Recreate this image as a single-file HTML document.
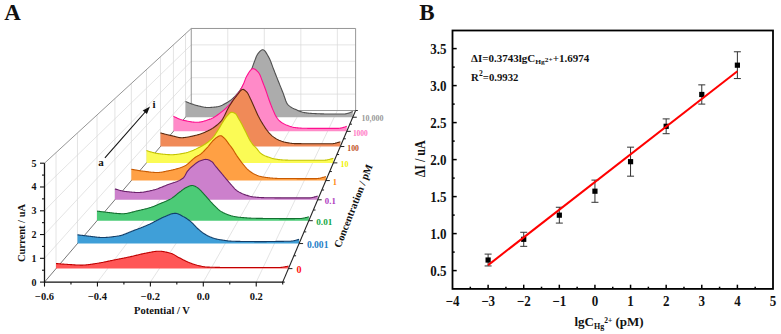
<!DOCTYPE html>
<html><head><meta charset="utf-8"><style>
html,body{margin:0;padding:0;background:#fff;overflow:hidden;}
svg{display:block;}
text{font-family:"Liberation Serif",serif;font-weight:bold;fill:#111;}
</style></head><body>
<svg width="781" height="334" viewBox="0 0 781 334">
<rect width="781" height="334" fill="#fff"/>
<line x1="56.03" y1="268.62" x2="56.03" y2="152.62" stroke="#d8d8d8" stroke-width="0.7" />
<line x1="77.47" y1="243.55" x2="77.47" y2="132.93" stroke="#d8d8d8" stroke-width="0.7" />
<line x1="97.02" y1="220.70" x2="97.02" y2="114.99" stroke="#d8d8d8" stroke-width="0.7" />
<line x1="114.90" y1="199.79" x2="114.90" y2="98.57" stroke="#d8d8d8" stroke-width="0.7" />
<line x1="131.33" y1="180.58" x2="131.33" y2="83.49" stroke="#d8d8d8" stroke-width="0.7" />
<line x1="146.47" y1="162.88" x2="146.47" y2="69.59" stroke="#d8d8d8" stroke-width="0.7" />
<line x1="160.47" y1="146.52" x2="160.47" y2="56.74" stroke="#d8d8d8" stroke-width="0.7" />
<line x1="173.45" y1="131.34" x2="173.45" y2="44.82" stroke="#d8d8d8" stroke-width="0.7" />
<line x1="185.52" y1="117.22" x2="185.52" y2="33.73" stroke="#d8d8d8" stroke-width="0.7" />
<line x1="44.50" y1="258.32" x2="191.25" y2="94.12" stroke="#d8d8d8" stroke-width="0.7" />
<line x1="44.50" y1="234.54" x2="191.25" y2="77.71" stroke="#d8d8d8" stroke-width="0.7" />
<line x1="44.50" y1="210.76" x2="191.25" y2="61.30" stroke="#d8d8d8" stroke-width="0.7" />
<line x1="44.50" y1="186.98" x2="191.25" y2="44.89" stroke="#d8d8d8" stroke-width="0.7" />
<line x1="227.77" y1="110.53" x2="227.77" y2="28.48" stroke="#d8d8d8" stroke-width="0.7" />
<line x1="264.30" y1="110.53" x2="264.30" y2="28.48" stroke="#d8d8d8" stroke-width="0.7" />
<line x1="300.83" y1="110.53" x2="300.83" y2="28.48" stroke="#d8d8d8" stroke-width="0.7" />
<line x1="337.36" y1="110.53" x2="337.36" y2="28.48" stroke="#d8d8d8" stroke-width="0.7" />
<line x1="191.25" y1="94.12" x2="355.62" y2="94.12" stroke="#d8d8d8" stroke-width="0.7" />
<line x1="191.25" y1="77.71" x2="355.62" y2="77.71" stroke="#d8d8d8" stroke-width="0.7" />
<line x1="191.25" y1="61.30" x2="355.62" y2="61.30" stroke="#d8d8d8" stroke-width="0.7" />
<line x1="191.25" y1="44.89" x2="355.62" y2="44.89" stroke="#d8d8d8" stroke-width="0.7" />
<line x1="97.43" y1="282.10" x2="227.77" y2="110.53" stroke="#d8d8d8" stroke-width="0.7" />
<line x1="150.37" y1="282.10" x2="264.30" y2="110.53" stroke="#d8d8d8" stroke-width="0.7" />
<line x1="203.30" y1="282.10" x2="300.83" y2="110.53" stroke="#d8d8d8" stroke-width="0.7" />
<line x1="256.23" y1="282.10" x2="337.36" y2="110.53" stroke="#d8d8d8" stroke-width="0.7" />
<polyline points="44.50,163.20 191.25,28.48 355.62,28.48 355.62,110.53 191.25,110.53 191.25,28.48" fill="none" stroke="#8a8a8a" stroke-width="0.9"/>
<line x1="44.50" y1="282.10" x2="191.25" y2="110.53" stroke="#555" stroke-width="0.8" />
<path d="M185.52,117.22 L185.52,101.40 L186.14,101.68 L186.76,101.95 L187.38,102.22 L188.00,102.48 L188.62,102.73 L189.24,102.99 L189.86,103.23 L190.48,103.47 L191.10,103.70 L191.72,103.93 L192.34,104.14 L192.95,104.35 L193.57,104.56 L194.19,104.75 L194.81,104.94 L195.43,105.12 L196.05,105.28 L196.67,105.44 L197.29,105.60 L197.91,105.75 L198.53,105.91 L199.15,106.07 L199.77,106.23 L200.39,106.38 L201.01,106.53 L201.63,106.68 L202.25,106.82 L202.87,106.95 L203.49,107.07 L204.11,107.18 L204.72,107.27 L205.34,107.35 L205.96,107.42 L206.58,107.47 L207.20,107.49 L207.82,107.50 L208.44,107.49 L209.06,107.48 L209.68,107.46 L210.30,107.43 L210.92,107.40 L211.54,107.36 L212.16,107.32 L212.78,107.27 L213.40,107.21 L214.02,107.15 L214.64,107.09 L215.26,107.02 L215.88,106.95 L216.49,106.88 L217.11,106.80 L217.73,106.70 L218.35,106.57 L218.97,106.40 L219.59,106.21 L220.21,105.99 L220.83,105.75 L221.45,105.48 L222.07,105.20 L222.69,104.90 L223.31,104.58 L223.93,104.26 L224.55,103.93 L225.17,103.59 L225.79,103.25 L226.41,102.91 L227.03,102.56 L227.65,102.20 L228.26,101.82 L228.88,101.41 L229.50,100.99 L230.12,100.55 L230.74,100.08 L231.36,99.60 L231.98,99.09 L232.60,98.56 L233.22,98.01 L233.84,97.43 L234.46,96.84 L235.08,96.22 L235.70,95.57 L236.32,94.89 L236.94,94.18 L237.56,93.44 L238.18,92.68 L238.80,91.88 L239.42,91.06 L240.03,90.21 L240.65,89.34 L241.27,88.43 L241.89,87.50 L242.51,86.54 L243.13,85.56 L243.75,84.55 L244.37,83.51 L244.99,82.45 L245.61,81.36 L246.23,80.25 L246.85,79.11 L247.47,77.95 L248.09,76.77 L248.71,75.56 L249.33,74.32 L249.95,73.07 L250.57,71.79 L251.19,70.44 L251.80,68.86 L252.42,67.14 L253.04,65.36 L253.66,63.61 L254.28,61.99 L254.90,60.36 L255.52,58.69 L256.14,57.08 L256.76,55.65 L257.38,54.51 L258.00,53.68 L258.62,52.89 L259.24,52.14 L259.86,51.45 L260.48,50.84 L261.10,50.34 L261.72,49.97 L262.34,49.75 L262.96,49.71 L263.57,49.90 L264.19,50.31 L264.81,50.92 L265.43,51.69 L266.05,52.59 L266.67,53.59 L267.29,54.66 L267.91,55.76 L268.53,56.87 L269.15,57.97 L269.77,59.22 L270.39,60.67 L271.01,62.26 L271.63,63.94 L272.25,65.65 L272.87,67.34 L273.49,68.96 L274.11,70.53 L274.73,72.10 L275.34,73.68 L275.96,75.25 L276.58,76.83 L277.20,78.39 L277.82,79.95 L278.44,81.51 L279.06,83.05 L279.68,84.59 L280.30,86.12 L280.92,87.65 L281.54,89.18 L282.16,90.71 L282.78,92.25 L283.40,93.92 L284.02,95.71 L284.64,97.53 L285.26,99.30 L285.88,100.96 L286.50,102.42 L287.11,103.60 L287.73,104.44 L288.35,105.06 L288.97,105.62 L289.59,106.14 L290.21,106.61 L290.83,107.03 L291.45,107.43 L292.07,107.79 L292.69,108.12 L293.31,108.43 L293.93,108.73 L294.55,109.01 L295.17,109.29 L295.79,109.56 L296.41,109.84 L297.03,110.11 L297.65,110.38 L298.27,110.64 L298.88,110.90 L299.50,111.15 L300.12,111.38 L300.74,111.61 L301.36,111.81 L301.98,112.01 L302.60,112.18 L303.22,112.34 L303.84,112.48 L304.46,112.59 L305.08,112.69 L305.70,112.79 L306.32,112.88 L306.94,112.96 L307.56,113.04 L308.18,113.11 L308.80,113.18 L309.42,113.24 L310.04,113.30 L310.65,113.35 L311.27,113.40 L311.89,113.44 L312.51,113.48 L313.13,113.51 L313.75,113.54 L314.37,113.57 L314.99,113.60 L315.61,113.63 L316.23,113.66 L316.85,113.68 L317.47,113.71 L318.09,113.73 L318.71,113.76 L319.33,113.78 L319.95,113.80 L320.57,113.83 L321.19,113.85 L321.80,113.87 L322.42,113.88 L323.04,113.90 L323.66,113.92 L324.28,113.93 L324.90,113.95 L325.52,113.96 L326.14,113.97 L326.76,113.98 L327.38,113.99 L328.00,113.99 L328.62,114.00 L329.24,114.00 L329.86,114.00 L330.48,114.00 L331.10,114.00 L331.72,114.00 L332.34,114.00 L332.96,114.00 L333.57,114.00 L334.19,114.00 L334.81,114.00 L335.43,114.00 L336.05,114.00 L336.67,114.00 L337.29,114.00 L337.91,114.00 L338.53,114.00 L339.15,114.00 L339.77,114.00 L340.39,114.00 L341.01,114.00 L341.63,114.00 L342.25,114.00 L342.87,114.00 L343.49,114.00 L344.11,113.98 L344.73,113.94 L345.34,113.86 L345.96,113.76 L346.58,113.63 L347.20,113.48 L347.82,113.31 L348.44,113.13 L349.06,112.93 L349.68,112.72 L350.30,112.51 L350.92,112.28 L351.54,112.06 L352.16,111.83 L352.78,111.60 L352.78,117.22Z" fill="#acacac" stroke="none"/>
<path d="M185.52,101.40 L186.14,101.68 L186.76,101.95 L187.38,102.22 L188.00,102.48 L188.62,102.73 L189.24,102.99 L189.86,103.23 L190.48,103.47 L191.10,103.70 L191.72,103.93 L192.34,104.14 L192.95,104.35 L193.57,104.56 L194.19,104.75 L194.81,104.94 L195.43,105.12 L196.05,105.28 L196.67,105.44 L197.29,105.60 L197.91,105.75 L198.53,105.91 L199.15,106.07 L199.77,106.23 L200.39,106.38 L201.01,106.53 L201.63,106.68 L202.25,106.82 L202.87,106.95 L203.49,107.07 L204.11,107.18 L204.72,107.27 L205.34,107.35 L205.96,107.42 L206.58,107.47 L207.20,107.49 L207.82,107.50 L208.44,107.49 L209.06,107.48 L209.68,107.46 L210.30,107.43 L210.92,107.40 L211.54,107.36 L212.16,107.32 L212.78,107.27 L213.40,107.21 L214.02,107.15 L214.64,107.09 L215.26,107.02 L215.88,106.95 L216.49,106.88 L217.11,106.80 L217.73,106.70 L218.35,106.57 L218.97,106.40 L219.59,106.21 L220.21,105.99 L220.83,105.75 L221.45,105.48 L222.07,105.20 L222.69,104.90 L223.31,104.58 L223.93,104.26 L224.55,103.93 L225.17,103.59 L225.79,103.25 L226.41,102.91 L227.03,102.56 L227.65,102.20 L228.26,101.82 L228.88,101.41 L229.50,100.99 L230.12,100.55 L230.74,100.08 L231.36,99.60 L231.98,99.09 L232.60,98.56 L233.22,98.01 L233.84,97.43 L234.46,96.84 L235.08,96.22 L235.70,95.57 L236.32,94.89 L236.94,94.18 L237.56,93.44 L238.18,92.68 L238.80,91.88 L239.42,91.06 L240.03,90.21 L240.65,89.34 L241.27,88.43 L241.89,87.50 L242.51,86.54 L243.13,85.56 L243.75,84.55 L244.37,83.51 L244.99,82.45 L245.61,81.36 L246.23,80.25 L246.85,79.11 L247.47,77.95 L248.09,76.77 L248.71,75.56 L249.33,74.32 L249.95,73.07 L250.57,71.79 L251.19,70.44 L251.80,68.86 L252.42,67.14 L253.04,65.36 L253.66,63.61 L254.28,61.99 L254.90,60.36 L255.52,58.69 L256.14,57.08 L256.76,55.65 L257.38,54.51 L258.00,53.68 L258.62,52.89 L259.24,52.14 L259.86,51.45 L260.48,50.84 L261.10,50.34 L261.72,49.97 L262.34,49.75 L262.96,49.71 L263.57,49.90 L264.19,50.31 L264.81,50.92 L265.43,51.69 L266.05,52.59 L266.67,53.59 L267.29,54.66 L267.91,55.76 L268.53,56.87 L269.15,57.97 L269.77,59.22 L270.39,60.67 L271.01,62.26 L271.63,63.94 L272.25,65.65 L272.87,67.34 L273.49,68.96 L274.11,70.53 L274.73,72.10 L275.34,73.68 L275.96,75.25 L276.58,76.83 L277.20,78.39 L277.82,79.95 L278.44,81.51 L279.06,83.05 L279.68,84.59 L280.30,86.12 L280.92,87.65 L281.54,89.18 L282.16,90.71 L282.78,92.25 L283.40,93.92 L284.02,95.71 L284.64,97.53 L285.26,99.30 L285.88,100.96 L286.50,102.42 L287.11,103.60 L287.73,104.44 L288.35,105.06 L288.97,105.62 L289.59,106.14 L290.21,106.61 L290.83,107.03 L291.45,107.43 L292.07,107.79 L292.69,108.12 L293.31,108.43 L293.93,108.73 L294.55,109.01 L295.17,109.29 L295.79,109.56 L296.41,109.84 L297.03,110.11 L297.65,110.38 L298.27,110.64 L298.88,110.90 L299.50,111.15 L300.12,111.38 L300.74,111.61 L301.36,111.81 L301.98,112.01 L302.60,112.18 L303.22,112.34 L303.84,112.48 L304.46,112.59 L305.08,112.69 L305.70,112.79 L306.32,112.88 L306.94,112.96 L307.56,113.04 L308.18,113.11 L308.80,113.18 L309.42,113.24 L310.04,113.30 L310.65,113.35 L311.27,113.40 L311.89,113.44 L312.51,113.48 L313.13,113.51 L313.75,113.54 L314.37,113.57 L314.99,113.60 L315.61,113.63 L316.23,113.66 L316.85,113.68 L317.47,113.71 L318.09,113.73 L318.71,113.76 L319.33,113.78 L319.95,113.80 L320.57,113.83 L321.19,113.85 L321.80,113.87 L322.42,113.88 L323.04,113.90 L323.66,113.92 L324.28,113.93 L324.90,113.95 L325.52,113.96 L326.14,113.97 L326.76,113.98 L327.38,113.99 L328.00,113.99 L328.62,114.00 L329.24,114.00 L329.86,114.00 L330.48,114.00 L331.10,114.00 L331.72,114.00 L332.34,114.00 L332.96,114.00 L333.57,114.00 L334.19,114.00 L334.81,114.00 L335.43,114.00 L336.05,114.00 L336.67,114.00 L337.29,114.00 L337.91,114.00 L338.53,114.00 L339.15,114.00 L339.77,114.00 L340.39,114.00 L341.01,114.00 L341.63,114.00 L342.25,114.00 L342.87,114.00 L343.49,114.00 L344.11,113.98 L344.73,113.94 L345.34,113.86 L345.96,113.76 L346.58,113.63 L347.20,113.48 L347.82,113.31 L348.44,113.13 L349.06,112.93 L349.68,112.72 L350.30,112.51 L350.92,112.28 L351.54,112.06 L352.16,111.83 L352.78,111.60" fill="none" stroke="#505050" stroke-width="1.1"/>
<path d="M173.45,131.34 L173.45,116.30 L174.09,116.62 L174.73,116.94 L175.37,117.25 L176.02,117.56 L176.66,117.86 L177.30,118.15 L177.94,118.43 L178.58,118.70 L179.23,118.96 L179.87,119.20 L180.51,119.44 L181.15,119.65 L181.79,119.85 L182.44,120.04 L183.08,120.20 L183.72,120.35 L184.36,120.49 L185.00,120.63 L185.65,120.77 L186.29,120.91 L186.93,121.05 L187.57,121.18 L188.21,121.31 L188.86,121.43 L189.50,121.55 L190.14,121.66 L190.78,121.77 L191.42,121.86 L192.07,121.95 L192.71,122.04 L193.35,122.11 L193.99,122.17 L194.63,122.22 L195.28,122.26 L195.92,122.28 L196.56,122.30 L197.20,122.30 L197.84,122.28 L198.49,122.23 L199.13,122.17 L199.77,122.09 L200.41,121.99 L201.05,121.87 L201.69,121.74 L202.34,121.59 L202.98,121.43 L203.62,121.26 L204.26,121.08 L204.90,120.89 L205.55,120.69 L206.19,120.48 L206.83,120.26 L207.47,120.04 L208.11,119.82 L208.76,119.59 L209.40,119.36 L210.04,119.13 L210.68,118.90 L211.32,118.64 L211.97,118.35 L212.61,118.03 L213.25,117.69 L213.89,117.33 L214.53,116.94 L215.18,116.54 L215.82,116.12 L216.46,115.68 L217.10,115.24 L217.74,114.78 L218.39,114.31 L219.03,113.83 L219.67,113.35 L220.31,112.87 L220.95,112.39 L221.60,111.90 L222.24,111.40 L222.88,110.88 L223.52,110.35 L224.16,109.80 L224.81,109.23 L225.45,108.64 L226.09,108.04 L226.73,107.43 L227.37,106.80 L228.02,106.15 L228.66,105.48 L229.30,104.80 L229.94,104.09 L230.58,103.34 L231.23,102.56 L231.87,101.75 L232.51,100.92 L233.15,100.07 L233.79,99.20 L234.44,98.32 L235.08,97.44 L235.72,96.56 L236.36,95.69 L237.00,94.83 L237.65,93.98 L238.29,93.12 L238.93,92.24 L239.57,91.31 L240.21,90.31 L240.85,89.21 L241.50,87.99 L242.14,86.69 L242.78,85.33 L243.42,83.95 L244.06,82.46 L244.71,80.83 L245.35,79.17 L245.99,77.61 L246.63,76.25 L247.27,75.16 L247.92,74.11 L248.56,73.06 L249.20,72.05 L249.84,71.12 L250.48,70.28 L251.13,69.58 L251.77,69.04 L252.41,68.71 L253.05,68.60 L253.69,68.68 L254.34,68.90 L254.98,69.24 L255.62,69.68 L256.26,70.22 L256.90,70.83 L257.55,71.50 L258.19,72.23 L258.83,72.99 L259.47,73.91 L260.11,75.23 L260.76,76.85 L261.40,78.61 L262.04,80.39 L262.68,82.06 L263.32,83.69 L263.97,85.34 L264.61,87.02 L265.25,88.75 L265.89,90.52 L266.53,92.36 L267.18,94.32 L267.82,96.30 L268.46,98.19 L269.10,99.98 L269.74,101.75 L270.39,103.48 L271.03,105.18 L271.67,106.82 L272.31,108.39 L272.95,109.89 L273.60,111.36 L274.24,112.81 L274.88,114.22 L275.52,115.52 L276.16,116.68 L276.81,117.65 L277.45,118.50 L278.09,119.29 L278.73,120.01 L279.37,120.67 L280.01,121.27 L280.66,121.80 L281.30,122.27 L281.94,122.69 L282.58,123.09 L283.22,123.46 L283.87,123.81 L284.51,124.13 L285.15,124.44 L285.79,124.73 L286.43,125.00 L287.08,125.25 L287.72,125.50 L288.36,125.73 L289.00,125.96 L289.64,126.20 L290.29,126.42 L290.93,126.63 L291.57,126.84 L292.21,127.03 L292.85,127.20 L293.50,127.35 L294.14,127.47 L294.78,127.57 L295.42,127.65 L296.06,127.72 L296.71,127.79 L297.35,127.85 L297.99,127.91 L298.63,127.97 L299.27,128.02 L299.92,128.07 L300.56,128.12 L301.20,128.16 L301.84,128.20 L302.48,128.23 L303.13,128.25 L303.77,128.27 L304.41,128.29 L305.05,128.30 L305.69,128.31 L306.34,128.32 L306.98,128.32 L307.62,128.33 L308.26,128.34 L308.90,128.34 L309.55,128.35 L310.19,128.36 L310.83,128.36 L311.47,128.37 L312.11,128.37 L312.76,128.38 L313.40,128.38 L314.04,128.38 L314.68,128.39 L315.32,128.39 L315.96,128.39 L316.61,128.39 L317.25,128.40 L317.89,128.40 L318.53,128.40 L319.17,128.40 L319.82,128.40 L320.46,128.40 L321.10,128.40 L321.74,128.40 L322.38,128.40 L323.03,128.40 L323.67,128.40 L324.31,128.40 L324.95,128.40 L325.59,128.40 L326.24,128.40 L326.88,128.40 L327.52,128.40 L328.16,128.40 L328.80,128.40 L329.45,128.40 L330.09,128.40 L330.73,128.40 L331.37,128.40 L332.01,128.40 L332.66,128.40 L333.30,128.40 L333.94,128.40 L334.58,128.40 L335.22,128.40 L335.87,128.40 L336.51,128.40 L337.15,128.40 L337.79,128.40 L338.43,128.37 L339.08,128.31 L339.72,128.23 L340.36,128.12 L341.00,128.00 L341.64,127.86 L342.29,127.70 L342.93,127.53 L343.57,127.35 L344.21,127.16 L344.85,126.97 L345.50,126.78 L346.14,126.59 L346.78,126.40 L346.78,131.34Z" fill="#ff8ac8" stroke="none"/>
<path d="M173.45,116.30 L174.09,116.62 L174.73,116.94 L175.37,117.25 L176.02,117.56 L176.66,117.86 L177.30,118.15 L177.94,118.43 L178.58,118.70 L179.23,118.96 L179.87,119.20 L180.51,119.44 L181.15,119.65 L181.79,119.85 L182.44,120.04 L183.08,120.20 L183.72,120.35 L184.36,120.49 L185.00,120.63 L185.65,120.77 L186.29,120.91 L186.93,121.05 L187.57,121.18 L188.21,121.31 L188.86,121.43 L189.50,121.55 L190.14,121.66 L190.78,121.77 L191.42,121.86 L192.07,121.95 L192.71,122.04 L193.35,122.11 L193.99,122.17 L194.63,122.22 L195.28,122.26 L195.92,122.28 L196.56,122.30 L197.20,122.30 L197.84,122.28 L198.49,122.23 L199.13,122.17 L199.77,122.09 L200.41,121.99 L201.05,121.87 L201.69,121.74 L202.34,121.59 L202.98,121.43 L203.62,121.26 L204.26,121.08 L204.90,120.89 L205.55,120.69 L206.19,120.48 L206.83,120.26 L207.47,120.04 L208.11,119.82 L208.76,119.59 L209.40,119.36 L210.04,119.13 L210.68,118.90 L211.32,118.64 L211.97,118.35 L212.61,118.03 L213.25,117.69 L213.89,117.33 L214.53,116.94 L215.18,116.54 L215.82,116.12 L216.46,115.68 L217.10,115.24 L217.74,114.78 L218.39,114.31 L219.03,113.83 L219.67,113.35 L220.31,112.87 L220.95,112.39 L221.60,111.90 L222.24,111.40 L222.88,110.88 L223.52,110.35 L224.16,109.80 L224.81,109.23 L225.45,108.64 L226.09,108.04 L226.73,107.43 L227.37,106.80 L228.02,106.15 L228.66,105.48 L229.30,104.80 L229.94,104.09 L230.58,103.34 L231.23,102.56 L231.87,101.75 L232.51,100.92 L233.15,100.07 L233.79,99.20 L234.44,98.32 L235.08,97.44 L235.72,96.56 L236.36,95.69 L237.00,94.83 L237.65,93.98 L238.29,93.12 L238.93,92.24 L239.57,91.31 L240.21,90.31 L240.85,89.21 L241.50,87.99 L242.14,86.69 L242.78,85.33 L243.42,83.95 L244.06,82.46 L244.71,80.83 L245.35,79.17 L245.99,77.61 L246.63,76.25 L247.27,75.16 L247.92,74.11 L248.56,73.06 L249.20,72.05 L249.84,71.12 L250.48,70.28 L251.13,69.58 L251.77,69.04 L252.41,68.71 L253.05,68.60 L253.69,68.68 L254.34,68.90 L254.98,69.24 L255.62,69.68 L256.26,70.22 L256.90,70.83 L257.55,71.50 L258.19,72.23 L258.83,72.99 L259.47,73.91 L260.11,75.23 L260.76,76.85 L261.40,78.61 L262.04,80.39 L262.68,82.06 L263.32,83.69 L263.97,85.34 L264.61,87.02 L265.25,88.75 L265.89,90.52 L266.53,92.36 L267.18,94.32 L267.82,96.30 L268.46,98.19 L269.10,99.98 L269.74,101.75 L270.39,103.48 L271.03,105.18 L271.67,106.82 L272.31,108.39 L272.95,109.89 L273.60,111.36 L274.24,112.81 L274.88,114.22 L275.52,115.52 L276.16,116.68 L276.81,117.65 L277.45,118.50 L278.09,119.29 L278.73,120.01 L279.37,120.67 L280.01,121.27 L280.66,121.80 L281.30,122.27 L281.94,122.69 L282.58,123.09 L283.22,123.46 L283.87,123.81 L284.51,124.13 L285.15,124.44 L285.79,124.73 L286.43,125.00 L287.08,125.25 L287.72,125.50 L288.36,125.73 L289.00,125.96 L289.64,126.20 L290.29,126.42 L290.93,126.63 L291.57,126.84 L292.21,127.03 L292.85,127.20 L293.50,127.35 L294.14,127.47 L294.78,127.57 L295.42,127.65 L296.06,127.72 L296.71,127.79 L297.35,127.85 L297.99,127.91 L298.63,127.97 L299.27,128.02 L299.92,128.07 L300.56,128.12 L301.20,128.16 L301.84,128.20 L302.48,128.23 L303.13,128.25 L303.77,128.27 L304.41,128.29 L305.05,128.30 L305.69,128.31 L306.34,128.32 L306.98,128.32 L307.62,128.33 L308.26,128.34 L308.90,128.34 L309.55,128.35 L310.19,128.36 L310.83,128.36 L311.47,128.37 L312.11,128.37 L312.76,128.38 L313.40,128.38 L314.04,128.38 L314.68,128.39 L315.32,128.39 L315.96,128.39 L316.61,128.39 L317.25,128.40 L317.89,128.40 L318.53,128.40 L319.17,128.40 L319.82,128.40 L320.46,128.40 L321.10,128.40 L321.74,128.40 L322.38,128.40 L323.03,128.40 L323.67,128.40 L324.31,128.40 L324.95,128.40 L325.59,128.40 L326.24,128.40 L326.88,128.40 L327.52,128.40 L328.16,128.40 L328.80,128.40 L329.45,128.40 L330.09,128.40 L330.73,128.40 L331.37,128.40 L332.01,128.40 L332.66,128.40 L333.30,128.40 L333.94,128.40 L334.58,128.40 L335.22,128.40 L335.87,128.40 L336.51,128.40 L337.15,128.40 L337.79,128.40 L338.43,128.37 L339.08,128.31 L339.72,128.23 L340.36,128.12 L341.00,128.00 L341.64,127.86 L342.29,127.70 L342.93,127.53 L343.57,127.35 L344.21,127.16 L344.85,126.97 L345.50,126.78 L346.14,126.59 L346.78,126.40" fill="none" stroke="#ff0f8f" stroke-width="1.1"/>
<path d="M160.47,146.52 L160.47,132.90 L161.13,133.09 L161.80,133.27 L162.46,133.45 L163.13,133.63 L163.80,133.81 L164.46,133.98 L165.13,134.16 L165.80,134.33 L166.46,134.49 L167.13,134.66 L167.79,134.83 L168.46,134.99 L169.13,135.15 L169.79,135.30 L170.46,135.46 L171.12,135.61 L171.79,135.76 L172.46,135.91 L173.12,136.06 L173.79,136.21 L174.46,136.37 L175.12,136.55 L175.79,136.72 L176.45,136.90 L177.12,137.06 L177.79,137.22 L178.45,137.37 L179.12,137.49 L179.78,137.59 L180.45,137.66 L181.12,137.70 L181.78,137.70 L182.45,137.68 L183.12,137.65 L183.78,137.60 L184.45,137.54 L185.11,137.47 L185.78,137.39 L186.45,137.30 L187.11,137.19 L187.78,137.08 L188.44,136.96 L189.11,136.83 L189.78,136.70 L190.44,136.56 L191.11,136.41 L191.78,136.26 L192.44,136.11 L193.11,135.96 L193.77,135.80 L194.44,135.64 L195.11,135.49 L195.77,135.33 L196.44,135.17 L197.10,135.00 L197.77,134.82 L198.44,134.63 L199.10,134.43 L199.77,134.21 L200.44,133.99 L201.10,133.76 L201.77,133.51 L202.43,133.26 L203.10,133.00 L203.77,132.73 L204.43,132.45 L205.10,132.16 L205.76,131.86 L206.43,131.55 L207.10,131.24 L207.76,130.92 L208.43,130.59 L209.10,130.25 L209.76,129.90 L210.43,129.54 L211.09,129.16 L211.76,128.77 L212.43,128.37 L213.09,127.94 L213.76,127.50 L214.42,127.04 L215.09,126.56 L215.76,126.05 L216.42,125.53 L217.09,124.98 L217.76,124.41 L218.42,123.81 L219.09,123.18 L219.75,122.52 L220.42,121.84 L221.09,121.13 L221.75,120.33 L222.42,119.37 L223.08,118.28 L223.75,117.08 L224.42,115.79 L225.08,114.44 L225.75,113.06 L226.42,111.67 L227.08,110.30 L227.75,108.97 L228.41,107.72 L229.08,106.56 L229.75,105.49 L230.41,104.45 L231.08,103.43 L231.74,102.42 L232.41,101.43 L233.08,100.47 L233.74,99.53 L234.41,98.61 L235.08,97.72 L235.74,96.86 L236.41,96.03 L237.07,95.23 L237.74,94.41 L238.41,93.52 L239.07,92.61 L239.74,91.73 L240.40,90.93 L241.07,90.25 L241.74,89.74 L242.40,89.45 L243.07,89.42 L243.74,89.60 L244.40,89.95 L245.07,90.44 L245.73,91.03 L246.40,91.69 L247.07,92.37 L247.73,93.28 L248.40,94.48 L249.06,95.87 L249.73,97.31 L250.40,98.70 L251.06,100.08 L251.73,101.53 L252.40,103.01 L253.06,104.52 L253.73,106.03 L254.39,107.54 L255.06,109.03 L255.73,110.49 L256.39,111.97 L257.06,113.45 L257.72,114.90 L258.39,116.30 L259.06,117.61 L259.72,118.85 L260.39,120.04 L261.06,121.19 L261.72,122.30 L262.39,123.39 L263.05,124.45 L263.72,125.50 L264.39,126.55 L265.05,127.59 L265.72,128.59 L266.38,129.55 L267.05,130.44 L267.72,131.26 L268.38,132.04 L269.05,132.81 L269.72,133.54 L270.38,134.24 L271.05,134.91 L271.71,135.54 L272.38,136.13 L273.05,136.66 L273.71,137.15 L274.38,137.61 L275.04,138.05 L275.71,138.46 L276.38,138.86 L277.04,139.23 L277.71,139.58 L278.38,139.90 L279.04,140.20 L279.71,140.48 L280.37,140.74 L281.04,140.99 L281.71,141.23 L282.37,141.45 L283.04,141.66 L283.70,141.86 L284.37,142.04 L285.04,142.20 L285.70,142.34 L286.37,142.47 L287.04,142.60 L287.70,142.72 L288.37,142.84 L289.03,142.96 L289.70,143.07 L290.37,143.18 L291.03,143.28 L291.70,143.36 L292.36,143.44 L293.03,143.50 L293.70,143.55 L294.36,143.58 L295.03,143.60 L295.70,143.61 L296.36,143.62 L297.03,143.63 L297.69,143.63 L298.36,143.64 L299.03,143.65 L299.69,143.66 L300.36,143.66 L301.02,143.67 L301.69,143.68 L302.36,143.68 L303.02,143.69 L303.69,143.69 L304.36,143.70 L305.02,143.71 L305.69,143.71 L306.35,143.72 L307.02,143.72 L307.69,143.73 L308.35,143.73 L309.02,143.74 L309.68,143.74 L310.35,143.74 L311.02,143.75 L311.68,143.75 L312.35,143.76 L313.02,143.76 L313.68,143.76 L314.35,143.77 L315.01,143.77 L315.68,143.77 L316.35,143.77 L317.01,143.78 L317.68,143.78 L318.34,143.78 L319.01,143.78 L319.68,143.79 L320.34,143.79 L321.01,143.79 L321.68,143.79 L322.34,143.79 L323.01,143.79 L323.67,143.79 L324.34,143.80 L325.01,143.80 L325.67,143.80 L326.34,143.80 L327.00,143.80 L327.67,143.80 L328.34,143.80 L329.00,143.80 L329.67,143.80 L330.34,143.80 L331.00,143.80 L331.67,143.78 L332.33,143.73 L333.00,143.65 L333.67,143.54 L334.33,143.42 L335.00,143.27 L335.66,143.10 L336.33,142.93 L337.00,142.74 L337.66,142.55 L338.33,142.36 L339.00,142.16 L339.66,141.98 L340.33,141.80 L340.33,146.52Z" fill="#f08a58" stroke="none"/>
<path d="M160.47,132.90 L161.13,133.09 L161.80,133.27 L162.46,133.45 L163.13,133.63 L163.80,133.81 L164.46,133.98 L165.13,134.16 L165.80,134.33 L166.46,134.49 L167.13,134.66 L167.79,134.83 L168.46,134.99 L169.13,135.15 L169.79,135.30 L170.46,135.46 L171.12,135.61 L171.79,135.76 L172.46,135.91 L173.12,136.06 L173.79,136.21 L174.46,136.37 L175.12,136.55 L175.79,136.72 L176.45,136.90 L177.12,137.06 L177.79,137.22 L178.45,137.37 L179.12,137.49 L179.78,137.59 L180.45,137.66 L181.12,137.70 L181.78,137.70 L182.45,137.68 L183.12,137.65 L183.78,137.60 L184.45,137.54 L185.11,137.47 L185.78,137.39 L186.45,137.30 L187.11,137.19 L187.78,137.08 L188.44,136.96 L189.11,136.83 L189.78,136.70 L190.44,136.56 L191.11,136.41 L191.78,136.26 L192.44,136.11 L193.11,135.96 L193.77,135.80 L194.44,135.64 L195.11,135.49 L195.77,135.33 L196.44,135.17 L197.10,135.00 L197.77,134.82 L198.44,134.63 L199.10,134.43 L199.77,134.21 L200.44,133.99 L201.10,133.76 L201.77,133.51 L202.43,133.26 L203.10,133.00 L203.77,132.73 L204.43,132.45 L205.10,132.16 L205.76,131.86 L206.43,131.55 L207.10,131.24 L207.76,130.92 L208.43,130.59 L209.10,130.25 L209.76,129.90 L210.43,129.54 L211.09,129.16 L211.76,128.77 L212.43,128.37 L213.09,127.94 L213.76,127.50 L214.42,127.04 L215.09,126.56 L215.76,126.05 L216.42,125.53 L217.09,124.98 L217.76,124.41 L218.42,123.81 L219.09,123.18 L219.75,122.52 L220.42,121.84 L221.09,121.13 L221.75,120.33 L222.42,119.37 L223.08,118.28 L223.75,117.08 L224.42,115.79 L225.08,114.44 L225.75,113.06 L226.42,111.67 L227.08,110.30 L227.75,108.97 L228.41,107.72 L229.08,106.56 L229.75,105.49 L230.41,104.45 L231.08,103.43 L231.74,102.42 L232.41,101.43 L233.08,100.47 L233.74,99.53 L234.41,98.61 L235.08,97.72 L235.74,96.86 L236.41,96.03 L237.07,95.23 L237.74,94.41 L238.41,93.52 L239.07,92.61 L239.74,91.73 L240.40,90.93 L241.07,90.25 L241.74,89.74 L242.40,89.45 L243.07,89.42 L243.74,89.60 L244.40,89.95 L245.07,90.44 L245.73,91.03 L246.40,91.69 L247.07,92.37 L247.73,93.28 L248.40,94.48 L249.06,95.87 L249.73,97.31 L250.40,98.70 L251.06,100.08 L251.73,101.53 L252.40,103.01 L253.06,104.52 L253.73,106.03 L254.39,107.54 L255.06,109.03 L255.73,110.49 L256.39,111.97 L257.06,113.45 L257.72,114.90 L258.39,116.30 L259.06,117.61 L259.72,118.85 L260.39,120.04 L261.06,121.19 L261.72,122.30 L262.39,123.39 L263.05,124.45 L263.72,125.50 L264.39,126.55 L265.05,127.59 L265.72,128.59 L266.38,129.55 L267.05,130.44 L267.72,131.26 L268.38,132.04 L269.05,132.81 L269.72,133.54 L270.38,134.24 L271.05,134.91 L271.71,135.54 L272.38,136.13 L273.05,136.66 L273.71,137.15 L274.38,137.61 L275.04,138.05 L275.71,138.46 L276.38,138.86 L277.04,139.23 L277.71,139.58 L278.38,139.90 L279.04,140.20 L279.71,140.48 L280.37,140.74 L281.04,140.99 L281.71,141.23 L282.37,141.45 L283.04,141.66 L283.70,141.86 L284.37,142.04 L285.04,142.20 L285.70,142.34 L286.37,142.47 L287.04,142.60 L287.70,142.72 L288.37,142.84 L289.03,142.96 L289.70,143.07 L290.37,143.18 L291.03,143.28 L291.70,143.36 L292.36,143.44 L293.03,143.50 L293.70,143.55 L294.36,143.58 L295.03,143.60 L295.70,143.61 L296.36,143.62 L297.03,143.63 L297.69,143.63 L298.36,143.64 L299.03,143.65 L299.69,143.66 L300.36,143.66 L301.02,143.67 L301.69,143.68 L302.36,143.68 L303.02,143.69 L303.69,143.69 L304.36,143.70 L305.02,143.71 L305.69,143.71 L306.35,143.72 L307.02,143.72 L307.69,143.73 L308.35,143.73 L309.02,143.74 L309.68,143.74 L310.35,143.74 L311.02,143.75 L311.68,143.75 L312.35,143.76 L313.02,143.76 L313.68,143.76 L314.35,143.77 L315.01,143.77 L315.68,143.77 L316.35,143.77 L317.01,143.78 L317.68,143.78 L318.34,143.78 L319.01,143.78 L319.68,143.79 L320.34,143.79 L321.01,143.79 L321.68,143.79 L322.34,143.79 L323.01,143.79 L323.67,143.79 L324.34,143.80 L325.01,143.80 L325.67,143.80 L326.34,143.80 L327.00,143.80 L327.67,143.80 L328.34,143.80 L329.00,143.80 L329.67,143.80 L330.34,143.80 L331.00,143.80 L331.67,143.78 L332.33,143.73 L333.00,143.65 L333.67,143.54 L334.33,143.42 L335.00,143.27 L335.66,143.10 L336.33,142.93 L337.00,142.74 L337.66,142.55 L338.33,142.36 L339.00,142.16 L339.66,141.98 L340.33,141.80" fill="none" stroke="#5a2a10" stroke-width="1.1"/>
<path d="M146.47,162.88 L146.47,150.60 L147.16,150.83 L147.85,151.05 L148.54,151.27 L149.24,151.48 L149.93,151.69 L150.62,151.89 L151.31,152.09 L152.01,152.28 L152.70,152.46 L153.39,152.64 L154.08,152.81 L154.77,152.97 L155.47,153.12 L156.16,153.26 L156.85,153.39 L157.54,153.52 L158.24,153.63 L158.93,153.73 L159.62,153.82 L160.31,153.90 L161.00,153.97 L161.70,154.05 L162.39,154.12 L163.08,154.19 L163.77,154.26 L164.47,154.32 L165.16,154.38 L165.85,154.44 L166.54,154.49 L167.23,154.54 L167.93,154.58 L168.62,154.62 L169.31,154.65 L170.00,154.68 L170.70,154.69 L171.39,154.70 L172.08,154.70 L172.77,154.68 L173.46,154.66 L174.16,154.62 L174.85,154.57 L175.54,154.51 L176.23,154.44 L176.93,154.36 L177.62,154.27 L178.31,154.18 L179.00,154.08 L179.69,153.97 L180.39,153.86 L181.08,153.74 L181.77,153.62 L182.46,153.49 L183.16,153.37 L183.85,153.24 L184.54,153.11 L185.23,152.97 L185.92,152.82 L186.62,152.65 L187.31,152.46 L188.00,152.26 L188.69,152.04 L189.39,151.81 L190.08,151.57 L190.77,151.31 L191.46,151.04 L192.15,150.76 L192.85,150.47 L193.54,150.17 L194.23,149.86 L194.92,149.54 L195.62,149.22 L196.31,148.88 L197.00,148.54 L197.69,148.20 L198.39,147.85 L199.08,147.49 L199.77,147.14 L200.46,146.78 L201.15,146.41 L201.85,146.04 L202.54,145.66 L203.23,145.26 L203.92,144.84 L204.62,144.42 L205.31,143.97 L206.00,143.51 L206.69,143.03 L207.38,142.53 L208.08,142.01 L208.77,141.46 L209.46,140.90 L210.15,140.31 L210.85,139.69 L211.54,139.04 L212.23,138.37 L212.92,137.61 L213.61,136.76 L214.31,135.83 L215.00,134.83 L215.69,133.79 L216.38,132.71 L217.08,131.62 L217.77,130.53 L218.46,129.45 L219.15,128.33 L219.84,127.16 L220.54,125.96 L221.23,124.75 L221.92,123.56 L222.61,122.42 L223.31,121.34 L224.00,120.27 L224.69,119.21 L225.38,118.18 L226.07,117.20 L226.77,116.31 L227.46,115.54 L228.15,114.82 L228.84,114.08 L229.54,113.38 L230.23,112.80 L230.92,112.38 L231.61,112.20 L232.30,112.25 L233.00,112.42 L233.69,112.70 L234.38,113.06 L235.07,113.49 L235.77,113.98 L236.46,114.74 L237.15,115.93 L237.84,117.29 L238.53,118.56 L239.23,119.69 L239.92,120.81 L240.61,121.96 L241.30,123.19 L242.00,124.52 L242.69,125.93 L243.38,127.35 L244.07,128.74 L244.76,130.10 L245.46,131.45 L246.15,132.81 L246.84,134.19 L247.53,135.65 L248.23,137.13 L248.92,138.54 L249.61,139.79 L250.30,140.91 L251.00,141.98 L251.69,142.98 L252.38,143.91 L253.07,144.79 L253.76,145.60 L254.46,146.31 L255.15,146.97 L255.84,147.63 L256.53,148.34 L257.23,149.15 L257.92,150.05 L258.61,150.97 L259.30,151.85 L259.99,152.64 L260.69,153.27 L261.38,153.79 L262.07,154.26 L262.76,154.69 L263.46,155.07 L264.15,155.43 L264.84,155.76 L265.53,156.07 L266.22,156.35 L266.92,156.62 L267.61,156.87 L268.30,157.10 L268.99,157.34 L269.69,157.57 L270.38,157.79 L271.07,158.01 L271.76,158.22 L272.45,158.42 L273.15,158.60 L273.84,158.76 L274.53,158.91 L275.22,159.04 L275.92,159.16 L276.61,159.27 L277.30,159.38 L277.99,159.48 L278.68,159.58 L279.38,159.66 L280.07,159.74 L280.76,159.81 L281.45,159.86 L282.15,159.91 L282.84,159.95 L283.53,159.99 L284.22,160.02 L284.91,160.06 L285.61,160.09 L286.30,160.12 L286.99,160.15 L287.68,160.17 L288.38,160.18 L289.07,160.19 L289.76,160.20 L290.45,160.20 L291.14,160.20 L291.84,160.20 L292.53,160.20 L293.22,160.20 L293.91,160.20 L294.61,160.20 L295.30,160.20 L295.99,160.20 L296.68,160.20 L297.37,160.20 L298.07,160.20 L298.76,160.20 L299.45,160.20 L300.14,160.20 L300.84,160.20 L301.53,160.20 L302.22,160.20 L302.91,160.20 L303.61,160.20 L304.30,160.20 L304.99,160.20 L305.68,160.20 L306.37,160.20 L307.07,160.20 L307.76,160.20 L308.45,160.20 L309.14,160.20 L309.84,160.20 L310.53,160.20 L311.22,160.20 L311.91,160.20 L312.60,160.20 L313.30,160.20 L313.99,160.20 L314.68,160.20 L315.37,160.20 L316.07,160.20 L316.76,160.20 L317.45,160.20 L318.14,160.20 L318.83,160.20 L319.53,160.20 L320.22,160.20 L320.91,160.20 L321.60,160.20 L322.30,160.20 L322.99,160.20 L323.68,160.20 L324.37,160.19 L325.06,160.16 L325.76,160.09 L326.45,160.00 L327.14,159.88 L327.83,159.73 L328.53,159.58 L329.22,159.41 L329.91,159.23 L330.60,159.04 L331.29,158.85 L331.99,158.66 L332.68,158.48 L333.37,158.30 L333.37,162.88Z" fill="#fbfb55" stroke="none"/>
<path d="M146.47,150.60 L147.16,150.83 L147.85,151.05 L148.54,151.27 L149.24,151.48 L149.93,151.69 L150.62,151.89 L151.31,152.09 L152.01,152.28 L152.70,152.46 L153.39,152.64 L154.08,152.81 L154.77,152.97 L155.47,153.12 L156.16,153.26 L156.85,153.39 L157.54,153.52 L158.24,153.63 L158.93,153.73 L159.62,153.82 L160.31,153.90 L161.00,153.97 L161.70,154.05 L162.39,154.12 L163.08,154.19 L163.77,154.26 L164.47,154.32 L165.16,154.38 L165.85,154.44 L166.54,154.49 L167.23,154.54 L167.93,154.58 L168.62,154.62 L169.31,154.65 L170.00,154.68 L170.70,154.69 L171.39,154.70 L172.08,154.70 L172.77,154.68 L173.46,154.66 L174.16,154.62 L174.85,154.57 L175.54,154.51 L176.23,154.44 L176.93,154.36 L177.62,154.27 L178.31,154.18 L179.00,154.08 L179.69,153.97 L180.39,153.86 L181.08,153.74 L181.77,153.62 L182.46,153.49 L183.16,153.37 L183.85,153.24 L184.54,153.11 L185.23,152.97 L185.92,152.82 L186.62,152.65 L187.31,152.46 L188.00,152.26 L188.69,152.04 L189.39,151.81 L190.08,151.57 L190.77,151.31 L191.46,151.04 L192.15,150.76 L192.85,150.47 L193.54,150.17 L194.23,149.86 L194.92,149.54 L195.62,149.22 L196.31,148.88 L197.00,148.54 L197.69,148.20 L198.39,147.85 L199.08,147.49 L199.77,147.14 L200.46,146.78 L201.15,146.41 L201.85,146.04 L202.54,145.66 L203.23,145.26 L203.92,144.84 L204.62,144.42 L205.31,143.97 L206.00,143.51 L206.69,143.03 L207.38,142.53 L208.08,142.01 L208.77,141.46 L209.46,140.90 L210.15,140.31 L210.85,139.69 L211.54,139.04 L212.23,138.37 L212.92,137.61 L213.61,136.76 L214.31,135.83 L215.00,134.83 L215.69,133.79 L216.38,132.71 L217.08,131.62 L217.77,130.53 L218.46,129.45 L219.15,128.33 L219.84,127.16 L220.54,125.96 L221.23,124.75 L221.92,123.56 L222.61,122.42 L223.31,121.34 L224.00,120.27 L224.69,119.21 L225.38,118.18 L226.07,117.20 L226.77,116.31 L227.46,115.54 L228.15,114.82 L228.84,114.08 L229.54,113.38 L230.23,112.80 L230.92,112.38 L231.61,112.20 L232.30,112.25 L233.00,112.42 L233.69,112.70 L234.38,113.06 L235.07,113.49 L235.77,113.98 L236.46,114.74 L237.15,115.93 L237.84,117.29 L238.53,118.56 L239.23,119.69 L239.92,120.81 L240.61,121.96 L241.30,123.19 L242.00,124.52 L242.69,125.93 L243.38,127.35 L244.07,128.74 L244.76,130.10 L245.46,131.45 L246.15,132.81 L246.84,134.19 L247.53,135.65 L248.23,137.13 L248.92,138.54 L249.61,139.79 L250.30,140.91 L251.00,141.98 L251.69,142.98 L252.38,143.91 L253.07,144.79 L253.76,145.60 L254.46,146.31 L255.15,146.97 L255.84,147.63 L256.53,148.34 L257.23,149.15 L257.92,150.05 L258.61,150.97 L259.30,151.85 L259.99,152.64 L260.69,153.27 L261.38,153.79 L262.07,154.26 L262.76,154.69 L263.46,155.07 L264.15,155.43 L264.84,155.76 L265.53,156.07 L266.22,156.35 L266.92,156.62 L267.61,156.87 L268.30,157.10 L268.99,157.34 L269.69,157.57 L270.38,157.79 L271.07,158.01 L271.76,158.22 L272.45,158.42 L273.15,158.60 L273.84,158.76 L274.53,158.91 L275.22,159.04 L275.92,159.16 L276.61,159.27 L277.30,159.38 L277.99,159.48 L278.68,159.58 L279.38,159.66 L280.07,159.74 L280.76,159.81 L281.45,159.86 L282.15,159.91 L282.84,159.95 L283.53,159.99 L284.22,160.02 L284.91,160.06 L285.61,160.09 L286.30,160.12 L286.99,160.15 L287.68,160.17 L288.38,160.18 L289.07,160.19 L289.76,160.20 L290.45,160.20 L291.14,160.20 L291.84,160.20 L292.53,160.20 L293.22,160.20 L293.91,160.20 L294.61,160.20 L295.30,160.20 L295.99,160.20 L296.68,160.20 L297.37,160.20 L298.07,160.20 L298.76,160.20 L299.45,160.20 L300.14,160.20 L300.84,160.20 L301.53,160.20 L302.22,160.20 L302.91,160.20 L303.61,160.20 L304.30,160.20 L304.99,160.20 L305.68,160.20 L306.37,160.20 L307.07,160.20 L307.76,160.20 L308.45,160.20 L309.14,160.20 L309.84,160.20 L310.53,160.20 L311.22,160.20 L311.91,160.20 L312.60,160.20 L313.30,160.20 L313.99,160.20 L314.68,160.20 L315.37,160.20 L316.07,160.20 L316.76,160.20 L317.45,160.20 L318.14,160.20 L318.83,160.20 L319.53,160.20 L320.22,160.20 L320.91,160.20 L321.60,160.20 L322.30,160.20 L322.99,160.20 L323.68,160.20 L324.37,160.19 L325.06,160.16 L325.76,160.09 L326.45,160.00 L327.14,159.88 L327.83,159.73 L328.53,159.58 L329.22,159.41 L329.91,159.23 L330.60,159.04 L331.29,158.85 L331.99,158.66 L332.68,158.48 L333.37,158.30" fill="none" stroke="#c4c400" stroke-width="1.1"/>
<path d="M131.33,180.58 L131.33,169.20 L132.05,169.34 L132.77,169.48 L133.49,169.62 L134.21,169.75 L134.93,169.89 L135.65,170.02 L136.37,170.14 L137.09,170.27 L137.81,170.39 L138.53,170.50 L139.25,170.62 L139.97,170.73 L140.69,170.84 L141.41,170.94 L142.13,171.04 L142.85,171.13 L143.57,171.22 L144.30,171.31 L145.02,171.40 L145.74,171.49 L146.46,171.58 L147.18,171.67 L147.90,171.76 L148.62,171.85 L149.34,171.94 L150.06,172.02 L150.78,172.11 L151.50,172.18 L152.22,172.25 L152.94,172.31 L153.66,172.37 L154.38,172.42 L155.10,172.45 L155.82,172.48 L156.54,172.50 L157.26,172.50 L157.98,172.48 L158.70,172.45 L159.42,172.39 L160.15,172.31 L160.87,172.22 L161.59,172.12 L162.31,172.00 L163.03,171.88 L163.75,171.74 L164.47,171.60 L165.19,171.46 L165.91,171.31 L166.63,171.16 L167.35,171.01 L168.07,170.87 L168.79,170.72 L169.51,170.58 L170.23,170.43 L170.95,170.28 L171.67,170.12 L172.39,169.96 L173.11,169.79 L173.83,169.62 L174.55,169.44 L175.27,169.25 L176.00,169.05 L176.72,168.85 L177.44,168.64 L178.16,168.42 L178.88,168.19 L179.60,167.95 L180.32,167.71 L181.04,167.45 L181.76,167.18 L182.48,166.90 L183.20,166.60 L183.92,166.30 L184.64,165.98 L185.36,165.61 L186.08,165.18 L186.80,164.67 L187.52,164.12 L188.24,163.52 L188.96,162.89 L189.68,162.24 L190.40,161.57 L191.12,160.89 L191.84,160.23 L192.57,159.57 L193.29,158.94 L194.01,158.35 L194.73,157.80 L195.45,157.29 L196.17,156.83 L196.89,156.40 L197.61,155.98 L198.33,155.56 L199.05,155.13 L199.77,154.67 L200.49,154.18 L201.21,153.64 L201.93,153.04 L202.65,152.39 L203.37,151.71 L204.09,150.99 L204.81,150.24 L205.53,149.48 L206.25,148.71 L206.97,147.93 L207.69,147.12 L208.42,146.25 L209.14,145.34 L209.86,144.42 L210.58,143.50 L211.30,142.61 L212.02,141.76 L212.74,140.97 L213.46,140.24 L214.18,139.53 L214.90,138.85 L215.62,138.22 L216.34,137.66 L217.06,137.20 L217.78,136.76 L218.50,136.34 L219.22,135.99 L219.94,135.76 L220.66,135.71 L221.38,135.89 L222.10,136.28 L222.82,136.83 L223.54,137.50 L224.26,138.23 L224.99,138.98 L225.71,139.71 L226.43,140.57 L227.15,141.56 L227.87,142.60 L228.59,143.64 L229.31,144.60 L230.03,145.51 L230.75,146.41 L231.47,147.34 L232.19,148.33 L232.91,149.40 L233.63,150.54 L234.35,151.72 L235.07,152.92 L235.79,154.11 L236.51,155.26 L237.23,156.35 L237.95,157.39 L238.67,158.42 L239.39,159.42 L240.11,160.41 L240.84,161.38 L241.56,162.32 L242.28,163.24 L243.00,164.13 L243.72,165.00 L244.44,165.87 L245.16,166.73 L245.88,167.56 L246.60,168.36 L247.32,169.11 L248.04,169.79 L248.76,170.40 L249.48,170.98 L250.20,171.54 L250.92,172.07 L251.64,172.56 L252.36,173.03 L253.08,173.46 L253.80,173.86 L254.52,174.21 L255.24,174.54 L255.96,174.85 L256.68,175.15 L257.41,175.43 L258.13,175.70 L258.85,175.95 L259.57,176.17 L260.29,176.38 L261.01,176.56 L261.73,176.73 L262.45,176.88 L263.17,177.01 L263.89,177.14 L264.61,177.26 L265.33,177.37 L266.05,177.48 L266.77,177.57 L267.49,177.65 L268.21,177.72 L268.93,177.79 L269.65,177.86 L270.37,177.93 L271.09,177.99 L271.81,178.06 L272.53,178.12 L273.26,178.18 L273.98,178.23 L274.70,178.29 L275.42,178.33 L276.14,178.38 L276.86,178.41 L277.58,178.44 L278.30,178.47 L279.02,178.49 L279.74,178.50 L280.46,178.50 L281.18,178.51 L281.90,178.51 L282.62,178.52 L283.34,178.52 L284.06,178.52 L284.78,178.53 L285.50,178.53 L286.22,178.53 L286.94,178.54 L287.66,178.54 L288.38,178.54 L289.11,178.55 L289.83,178.55 L290.55,178.55 L291.27,178.56 L291.99,178.56 L292.71,178.56 L293.43,178.56 L294.15,178.57 L294.87,178.57 L295.59,178.57 L296.31,178.57 L297.03,178.58 L297.75,178.58 L298.47,178.58 L299.19,178.58 L299.91,178.58 L300.63,178.58 L301.35,178.59 L302.07,178.59 L302.79,178.59 L303.51,178.59 L304.23,178.59 L304.95,178.59 L305.68,178.59 L306.40,178.59 L307.12,178.60 L307.84,178.60 L308.56,178.60 L309.28,178.60 L310.00,178.60 L310.72,178.60 L311.44,178.60 L312.16,178.60 L312.88,178.60 L313.60,178.60 L314.32,178.60 L315.04,178.60 L315.76,178.60 L316.48,178.59 L317.20,178.55 L317.92,178.48 L318.64,178.37 L319.36,178.25 L320.08,178.10 L320.80,177.93 L321.53,177.75 L322.25,177.57 L322.97,177.37 L323.69,177.17 L324.41,176.98 L325.13,176.78 L325.85,176.60 L325.85,180.58Z" fill="#ffa044" stroke="none"/>
<path d="M131.33,169.20 L132.05,169.34 L132.77,169.48 L133.49,169.62 L134.21,169.75 L134.93,169.89 L135.65,170.02 L136.37,170.14 L137.09,170.27 L137.81,170.39 L138.53,170.50 L139.25,170.62 L139.97,170.73 L140.69,170.84 L141.41,170.94 L142.13,171.04 L142.85,171.13 L143.57,171.22 L144.30,171.31 L145.02,171.40 L145.74,171.49 L146.46,171.58 L147.18,171.67 L147.90,171.76 L148.62,171.85 L149.34,171.94 L150.06,172.02 L150.78,172.11 L151.50,172.18 L152.22,172.25 L152.94,172.31 L153.66,172.37 L154.38,172.42 L155.10,172.45 L155.82,172.48 L156.54,172.50 L157.26,172.50 L157.98,172.48 L158.70,172.45 L159.42,172.39 L160.15,172.31 L160.87,172.22 L161.59,172.12 L162.31,172.00 L163.03,171.88 L163.75,171.74 L164.47,171.60 L165.19,171.46 L165.91,171.31 L166.63,171.16 L167.35,171.01 L168.07,170.87 L168.79,170.72 L169.51,170.58 L170.23,170.43 L170.95,170.28 L171.67,170.12 L172.39,169.96 L173.11,169.79 L173.83,169.62 L174.55,169.44 L175.27,169.25 L176.00,169.05 L176.72,168.85 L177.44,168.64 L178.16,168.42 L178.88,168.19 L179.60,167.95 L180.32,167.71 L181.04,167.45 L181.76,167.18 L182.48,166.90 L183.20,166.60 L183.92,166.30 L184.64,165.98 L185.36,165.61 L186.08,165.18 L186.80,164.67 L187.52,164.12 L188.24,163.52 L188.96,162.89 L189.68,162.24 L190.40,161.57 L191.12,160.89 L191.84,160.23 L192.57,159.57 L193.29,158.94 L194.01,158.35 L194.73,157.80 L195.45,157.29 L196.17,156.83 L196.89,156.40 L197.61,155.98 L198.33,155.56 L199.05,155.13 L199.77,154.67 L200.49,154.18 L201.21,153.64 L201.93,153.04 L202.65,152.39 L203.37,151.71 L204.09,150.99 L204.81,150.24 L205.53,149.48 L206.25,148.71 L206.97,147.93 L207.69,147.12 L208.42,146.25 L209.14,145.34 L209.86,144.42 L210.58,143.50 L211.30,142.61 L212.02,141.76 L212.74,140.97 L213.46,140.24 L214.18,139.53 L214.90,138.85 L215.62,138.22 L216.34,137.66 L217.06,137.20 L217.78,136.76 L218.50,136.34 L219.22,135.99 L219.94,135.76 L220.66,135.71 L221.38,135.89 L222.10,136.28 L222.82,136.83 L223.54,137.50 L224.26,138.23 L224.99,138.98 L225.71,139.71 L226.43,140.57 L227.15,141.56 L227.87,142.60 L228.59,143.64 L229.31,144.60 L230.03,145.51 L230.75,146.41 L231.47,147.34 L232.19,148.33 L232.91,149.40 L233.63,150.54 L234.35,151.72 L235.07,152.92 L235.79,154.11 L236.51,155.26 L237.23,156.35 L237.95,157.39 L238.67,158.42 L239.39,159.42 L240.11,160.41 L240.84,161.38 L241.56,162.32 L242.28,163.24 L243.00,164.13 L243.72,165.00 L244.44,165.87 L245.16,166.73 L245.88,167.56 L246.60,168.36 L247.32,169.11 L248.04,169.79 L248.76,170.40 L249.48,170.98 L250.20,171.54 L250.92,172.07 L251.64,172.56 L252.36,173.03 L253.08,173.46 L253.80,173.86 L254.52,174.21 L255.24,174.54 L255.96,174.85 L256.68,175.15 L257.41,175.43 L258.13,175.70 L258.85,175.95 L259.57,176.17 L260.29,176.38 L261.01,176.56 L261.73,176.73 L262.45,176.88 L263.17,177.01 L263.89,177.14 L264.61,177.26 L265.33,177.37 L266.05,177.48 L266.77,177.57 L267.49,177.65 L268.21,177.72 L268.93,177.79 L269.65,177.86 L270.37,177.93 L271.09,177.99 L271.81,178.06 L272.53,178.12 L273.26,178.18 L273.98,178.23 L274.70,178.29 L275.42,178.33 L276.14,178.38 L276.86,178.41 L277.58,178.44 L278.30,178.47 L279.02,178.49 L279.74,178.50 L280.46,178.50 L281.18,178.51 L281.90,178.51 L282.62,178.52 L283.34,178.52 L284.06,178.52 L284.78,178.53 L285.50,178.53 L286.22,178.53 L286.94,178.54 L287.66,178.54 L288.38,178.54 L289.11,178.55 L289.83,178.55 L290.55,178.55 L291.27,178.56 L291.99,178.56 L292.71,178.56 L293.43,178.56 L294.15,178.57 L294.87,178.57 L295.59,178.57 L296.31,178.57 L297.03,178.58 L297.75,178.58 L298.47,178.58 L299.19,178.58 L299.91,178.58 L300.63,178.58 L301.35,178.59 L302.07,178.59 L302.79,178.59 L303.51,178.59 L304.23,178.59 L304.95,178.59 L305.68,178.59 L306.40,178.59 L307.12,178.60 L307.84,178.60 L308.56,178.60 L309.28,178.60 L310.00,178.60 L310.72,178.60 L311.44,178.60 L312.16,178.60 L312.88,178.60 L313.60,178.60 L314.32,178.60 L315.04,178.60 L315.76,178.60 L316.48,178.59 L317.20,178.55 L317.92,178.48 L318.64,178.37 L319.36,178.25 L320.08,178.10 L320.80,177.93 L321.53,177.75 L322.25,177.57 L322.97,177.37 L323.69,177.17 L324.41,176.98 L325.13,176.78 L325.85,176.60" fill="none" stroke="#c85a00" stroke-width="1.1"/>
<path d="M114.90,199.79 L114.90,188.90 L115.65,189.14 L116.40,189.37 L117.15,189.59 L117.91,189.81 L118.66,190.03 L119.41,190.23 L120.16,190.43 L120.91,190.61 L121.66,190.79 L122.41,190.95 L123.16,191.10 L123.91,191.24 L124.66,191.36 L125.42,191.46 L126.17,191.56 L126.92,191.65 L127.67,191.74 L128.42,191.82 L129.17,191.91 L129.92,191.99 L130.67,192.06 L131.42,192.14 L132.18,192.21 L132.93,192.27 L133.68,192.32 L134.43,192.37 L135.18,192.42 L135.93,192.45 L136.68,192.48 L137.43,192.49 L138.18,192.50 L138.93,192.49 L139.69,192.47 L140.44,192.42 L141.19,192.36 L141.94,192.28 L142.69,192.19 L143.44,192.09 L144.19,191.97 L144.94,191.84 L145.69,191.71 L146.45,191.56 L147.20,191.41 L147.95,191.25 L148.70,191.10 L149.45,190.93 L150.20,190.77 L150.95,190.60 L151.70,190.44 L152.45,190.28 L153.20,190.09 L153.96,189.89 L154.71,189.68 L155.46,189.45 L156.21,189.21 L156.96,188.95 L157.71,188.69 L158.46,188.41 L159.21,188.13 L159.96,187.84 L160.72,187.54 L161.47,187.24 L162.22,186.94 L162.97,186.63 L163.72,186.32 L164.47,186.01 L165.22,185.70 L165.97,185.39 L166.72,185.09 L167.47,184.79 L168.23,184.50 L168.98,184.22 L169.73,183.96 L170.48,183.71 L171.23,183.47 L171.98,183.23 L172.73,182.99 L173.48,182.75 L174.23,182.50 L174.99,182.25 L175.74,181.98 L176.49,181.70 L177.24,181.41 L177.99,181.09 L178.74,180.75 L179.49,180.38 L180.24,179.98 L180.99,179.55 L181.74,179.08 L182.50,178.57 L183.25,178.02 L184.00,177.26 L184.75,176.07 L185.50,174.64 L186.25,173.19 L187.00,171.91 L187.75,170.94 L188.50,170.06 L189.26,169.23 L190.01,168.45 L190.76,167.72 L191.51,167.02 L192.26,166.36 L193.01,165.72 L193.76,165.10 L194.51,164.48 L195.26,163.87 L196.01,163.28 L196.77,162.72 L197.52,162.20 L198.27,161.74 L199.02,161.35 L199.77,161.03 L200.52,160.74 L201.27,160.46 L202.02,160.19 L202.77,159.95 L203.53,159.74 L204.28,159.57 L205.03,159.46 L205.78,159.40 L206.53,159.43 L207.28,159.54 L208.03,159.74 L208.78,160.02 L209.53,160.36 L210.28,160.74 L211.04,161.17 L211.79,161.63 L212.54,162.24 L213.29,163.15 L214.04,164.21 L214.79,165.24 L215.54,166.16 L216.29,167.07 L217.04,167.97 L217.80,168.87 L218.55,169.78 L219.30,170.68 L220.05,171.57 L220.80,172.47 L221.55,173.37 L222.30,174.26 L223.05,175.16 L223.80,176.07 L224.55,176.98 L225.31,177.89 L226.06,178.80 L226.81,179.71 L227.56,180.60 L228.31,181.48 L229.06,182.35 L229.81,183.19 L230.56,184.03 L231.31,184.89 L232.07,185.75 L232.82,186.61 L233.57,187.46 L234.32,188.27 L235.07,189.04 L235.82,189.75 L236.57,190.39 L237.32,190.95 L238.07,191.43 L238.82,191.89 L239.58,192.32 L240.33,192.72 L241.08,193.10 L241.83,193.45 L242.58,193.78 L243.33,194.09 L244.08,194.38 L244.83,194.64 L245.58,194.90 L246.34,195.15 L247.09,195.39 L247.84,195.63 L248.59,195.85 L249.34,196.07 L250.09,196.27 L250.84,196.45 L251.59,196.62 L252.34,196.76 L253.09,196.89 L253.85,196.98 L254.60,197.06 L255.35,197.13 L256.10,197.20 L256.85,197.27 L257.60,197.33 L258.35,197.39 L259.10,197.44 L259.85,197.49 L260.61,197.54 L261.36,197.58 L262.11,197.61 L262.86,197.64 L263.61,197.67 L264.36,197.69 L265.11,197.70 L265.86,197.71 L266.61,197.72 L267.36,197.74 L268.12,197.75 L268.87,197.76 L269.62,197.77 L270.37,197.78 L271.12,197.79 L271.87,197.79 L272.62,197.80 L273.37,197.81 L274.12,197.82 L274.88,197.83 L275.63,197.83 L276.38,197.84 L277.13,197.85 L277.88,197.85 L278.63,197.86 L279.38,197.86 L280.13,197.87 L280.88,197.87 L281.63,197.88 L282.39,197.88 L283.14,197.88 L283.89,197.89 L284.64,197.89 L285.39,197.89 L286.14,197.90 L286.89,197.90 L287.64,197.90 L288.39,197.90 L289.15,197.90 L289.90,197.90 L290.65,197.90 L291.40,197.90 L292.15,197.90 L292.90,197.90 L293.65,197.90 L294.40,197.90 L295.15,197.90 L295.90,197.90 L296.66,197.90 L297.41,197.90 L298.16,197.90 L298.91,197.90 L299.66,197.90 L300.41,197.90 L301.16,197.90 L301.91,197.90 L302.66,197.90 L303.42,197.90 L304.17,197.90 L304.92,197.90 L305.67,197.90 L306.42,197.90 L307.17,197.90 L307.92,197.90 L308.67,197.90 L309.42,197.89 L310.17,197.84 L310.93,197.76 L311.68,197.63 L312.43,197.48 L313.18,197.30 L313.93,197.11 L314.68,196.89 L315.43,196.67 L316.18,196.45 L316.93,196.22 L317.69,196.00 L317.69,199.79Z" fill="#cc80cc" stroke="none"/>
<path d="M114.90,188.90 L115.65,189.14 L116.40,189.37 L117.15,189.59 L117.91,189.81 L118.66,190.03 L119.41,190.23 L120.16,190.43 L120.91,190.61 L121.66,190.79 L122.41,190.95 L123.16,191.10 L123.91,191.24 L124.66,191.36 L125.42,191.46 L126.17,191.56 L126.92,191.65 L127.67,191.74 L128.42,191.82 L129.17,191.91 L129.92,191.99 L130.67,192.06 L131.42,192.14 L132.18,192.21 L132.93,192.27 L133.68,192.32 L134.43,192.37 L135.18,192.42 L135.93,192.45 L136.68,192.48 L137.43,192.49 L138.18,192.50 L138.93,192.49 L139.69,192.47 L140.44,192.42 L141.19,192.36 L141.94,192.28 L142.69,192.19 L143.44,192.09 L144.19,191.97 L144.94,191.84 L145.69,191.71 L146.45,191.56 L147.20,191.41 L147.95,191.25 L148.70,191.10 L149.45,190.93 L150.20,190.77 L150.95,190.60 L151.70,190.44 L152.45,190.28 L153.20,190.09 L153.96,189.89 L154.71,189.68 L155.46,189.45 L156.21,189.21 L156.96,188.95 L157.71,188.69 L158.46,188.41 L159.21,188.13 L159.96,187.84 L160.72,187.54 L161.47,187.24 L162.22,186.94 L162.97,186.63 L163.72,186.32 L164.47,186.01 L165.22,185.70 L165.97,185.39 L166.72,185.09 L167.47,184.79 L168.23,184.50 L168.98,184.22 L169.73,183.96 L170.48,183.71 L171.23,183.47 L171.98,183.23 L172.73,182.99 L173.48,182.75 L174.23,182.50 L174.99,182.25 L175.74,181.98 L176.49,181.70 L177.24,181.41 L177.99,181.09 L178.74,180.75 L179.49,180.38 L180.24,179.98 L180.99,179.55 L181.74,179.08 L182.50,178.57 L183.25,178.02 L184.00,177.26 L184.75,176.07 L185.50,174.64 L186.25,173.19 L187.00,171.91 L187.75,170.94 L188.50,170.06 L189.26,169.23 L190.01,168.45 L190.76,167.72 L191.51,167.02 L192.26,166.36 L193.01,165.72 L193.76,165.10 L194.51,164.48 L195.26,163.87 L196.01,163.28 L196.77,162.72 L197.52,162.20 L198.27,161.74 L199.02,161.35 L199.77,161.03 L200.52,160.74 L201.27,160.46 L202.02,160.19 L202.77,159.95 L203.53,159.74 L204.28,159.57 L205.03,159.46 L205.78,159.40 L206.53,159.43 L207.28,159.54 L208.03,159.74 L208.78,160.02 L209.53,160.36 L210.28,160.74 L211.04,161.17 L211.79,161.63 L212.54,162.24 L213.29,163.15 L214.04,164.21 L214.79,165.24 L215.54,166.16 L216.29,167.07 L217.04,167.97 L217.80,168.87 L218.55,169.78 L219.30,170.68 L220.05,171.57 L220.80,172.47 L221.55,173.37 L222.30,174.26 L223.05,175.16 L223.80,176.07 L224.55,176.98 L225.31,177.89 L226.06,178.80 L226.81,179.71 L227.56,180.60 L228.31,181.48 L229.06,182.35 L229.81,183.19 L230.56,184.03 L231.31,184.89 L232.07,185.75 L232.82,186.61 L233.57,187.46 L234.32,188.27 L235.07,189.04 L235.82,189.75 L236.57,190.39 L237.32,190.95 L238.07,191.43 L238.82,191.89 L239.58,192.32 L240.33,192.72 L241.08,193.10 L241.83,193.45 L242.58,193.78 L243.33,194.09 L244.08,194.38 L244.83,194.64 L245.58,194.90 L246.34,195.15 L247.09,195.39 L247.84,195.63 L248.59,195.85 L249.34,196.07 L250.09,196.27 L250.84,196.45 L251.59,196.62 L252.34,196.76 L253.09,196.89 L253.85,196.98 L254.60,197.06 L255.35,197.13 L256.10,197.20 L256.85,197.27 L257.60,197.33 L258.35,197.39 L259.10,197.44 L259.85,197.49 L260.61,197.54 L261.36,197.58 L262.11,197.61 L262.86,197.64 L263.61,197.67 L264.36,197.69 L265.11,197.70 L265.86,197.71 L266.61,197.72 L267.36,197.74 L268.12,197.75 L268.87,197.76 L269.62,197.77 L270.37,197.78 L271.12,197.79 L271.87,197.79 L272.62,197.80 L273.37,197.81 L274.12,197.82 L274.88,197.83 L275.63,197.83 L276.38,197.84 L277.13,197.85 L277.88,197.85 L278.63,197.86 L279.38,197.86 L280.13,197.87 L280.88,197.87 L281.63,197.88 L282.39,197.88 L283.14,197.88 L283.89,197.89 L284.64,197.89 L285.39,197.89 L286.14,197.90 L286.89,197.90 L287.64,197.90 L288.39,197.90 L289.15,197.90 L289.90,197.90 L290.65,197.90 L291.40,197.90 L292.15,197.90 L292.90,197.90 L293.65,197.90 L294.40,197.90 L295.15,197.90 L295.90,197.90 L296.66,197.90 L297.41,197.90 L298.16,197.90 L298.91,197.90 L299.66,197.90 L300.41,197.90 L301.16,197.90 L301.91,197.90 L302.66,197.90 L303.42,197.90 L304.17,197.90 L304.92,197.90 L305.67,197.90 L306.42,197.90 L307.17,197.90 L307.92,197.90 L308.67,197.90 L309.42,197.89 L310.17,197.84 L310.93,197.76 L311.68,197.63 L312.43,197.48 L313.18,197.30 L313.93,197.11 L314.68,196.89 L315.43,196.67 L316.18,196.45 L316.93,196.22 L317.69,196.00" fill="none" stroke="#6a206a" stroke-width="1.1"/>
<path d="M97.02,220.70 L97.02,211.10 L97.80,211.20 L98.59,211.30 L99.37,211.40 L100.16,211.49 L100.94,211.59 L101.72,211.68 L102.51,211.77 L103.29,211.85 L104.08,211.94 L104.86,212.04 L105.65,212.13 L106.43,212.23 L107.21,212.33 L108.00,212.43 L108.78,212.53 L109.57,212.63 L110.35,212.73 L111.14,212.82 L111.92,212.92 L112.70,213.01 L113.49,213.10 L114.27,213.19 L115.06,213.27 L115.84,213.34 L116.63,213.41 L117.41,213.48 L118.20,213.53 L118.98,213.58 L119.76,213.62 L120.55,213.66 L121.33,213.68 L122.12,213.70 L122.90,213.70 L123.69,213.68 L124.47,213.63 L125.25,213.56 L126.04,213.47 L126.82,213.35 L127.61,213.21 L128.39,213.06 L129.18,212.89 L129.96,212.71 L130.75,212.52 L131.53,212.32 L132.31,212.11 L133.10,211.90 L133.88,211.69 L134.67,211.48 L135.45,211.27 L136.24,211.07 L137.02,210.88 L137.80,210.69 L138.59,210.51 L139.37,210.34 L140.16,210.17 L140.94,209.99 L141.73,209.82 L142.51,209.64 L143.30,209.46 L144.08,209.28 L144.86,209.09 L145.65,208.90 L146.43,208.70 L147.22,208.49 L148.00,208.28 L148.79,208.06 L149.57,207.83 L150.35,207.59 L151.14,207.33 L151.92,207.05 L152.71,206.76 L153.49,206.46 L154.28,206.14 L155.06,205.81 L155.85,205.48 L156.63,205.14 L157.41,204.80 L158.20,204.46 L158.98,204.12 L159.77,203.78 L160.55,203.45 L161.34,203.13 L162.12,202.81 L162.90,202.49 L163.69,202.17 L164.47,201.84 L165.26,201.52 L166.04,201.18 L166.83,200.83 L167.61,200.48 L168.40,200.10 L169.18,199.71 L169.96,199.30 L170.75,198.86 L171.53,198.38 L172.32,197.86 L173.10,197.30 L173.89,196.71 L174.67,196.10 L175.45,195.47 L176.24,194.83 L177.02,194.19 L177.81,193.54 L178.59,192.91 L179.38,192.29 L180.16,191.69 L180.95,191.12 L181.73,190.53 L182.51,189.93 L183.30,189.34 L184.08,188.78 L184.87,188.27 L185.65,187.82 L186.44,187.44 L187.22,187.06 L188.00,186.68 L188.79,186.32 L189.57,186.01 L190.36,185.76 L191.14,185.58 L191.93,185.50 L192.71,185.54 L193.50,185.71 L194.28,185.98 L195.06,186.32 L195.85,186.72 L196.63,187.14 L197.42,187.59 L198.20,188.19 L198.99,188.91 L199.77,189.68 L200.55,190.44 L201.34,191.23 L202.12,192.06 L202.91,192.91 L203.69,193.78 L204.48,194.67 L205.26,195.56 L206.05,196.44 L206.83,197.31 L207.61,198.18 L208.40,199.06 L209.18,199.95 L209.97,200.85 L210.75,201.74 L211.54,202.61 L212.32,203.47 L213.10,204.29 L213.89,205.09 L214.67,205.88 L215.46,206.67 L216.24,207.46 L217.03,208.22 L217.81,208.95 L218.60,209.64 L219.38,210.28 L220.16,210.84 L220.95,211.35 L221.73,211.82 L222.52,212.26 L223.30,212.68 L224.09,213.07 L224.87,213.44 L225.65,213.78 L226.44,214.11 L227.22,214.41 L228.01,214.70 L228.79,214.97 L229.58,215.24 L230.36,215.49 L231.15,215.73 L231.93,215.94 L232.71,216.14 L233.50,216.32 L234.28,216.47 L235.07,216.62 L235.85,216.75 L236.64,216.88 L237.42,216.99 L238.20,217.10 L238.99,217.19 L239.77,217.28 L240.56,217.35 L241.34,217.43 L242.13,217.51 L242.91,217.58 L243.70,217.65 L244.48,217.72 L245.26,217.79 L246.05,217.86 L246.83,217.92 L247.62,217.98 L248.40,218.03 L249.19,218.08 L249.97,218.13 L250.75,218.17 L251.54,218.21 L252.32,218.24 L253.11,218.27 L253.89,218.29 L254.68,218.30 L255.46,218.32 L256.25,218.33 L257.03,218.34 L257.81,218.35 L258.60,218.37 L259.38,218.38 L260.17,218.39 L260.95,218.40 L261.74,218.41 L262.52,218.42 L263.30,218.43 L264.09,218.44 L264.87,218.45 L265.66,218.46 L266.44,218.47 L267.23,218.48 L268.01,218.48 L268.79,218.49 L269.58,218.50 L270.36,218.51 L271.15,218.52 L271.93,218.52 L272.72,218.53 L273.50,218.54 L274.29,218.54 L275.07,218.55 L275.85,218.55 L276.64,218.56 L277.42,218.56 L278.21,218.57 L278.99,218.57 L279.78,218.58 L280.56,218.58 L281.34,218.58 L282.13,218.59 L282.91,218.59 L283.70,218.59 L284.48,218.59 L285.27,218.59 L286.05,218.60 L286.84,218.60 L287.62,218.60 L288.40,218.60 L289.19,218.60 L289.97,218.60 L290.76,218.60 L291.54,218.60 L292.33,218.59 L293.11,218.59 L293.89,218.58 L294.68,218.58 L295.46,218.57 L296.25,218.56 L297.03,218.55 L297.82,218.54 L298.60,218.53 L299.39,218.51 L300.17,218.50 L300.95,218.46 L301.74,218.38 L302.52,218.28 L303.31,218.15 L304.09,218.00 L304.88,217.83 L305.66,217.64 L306.44,217.44 L307.23,217.23 L308.01,217.02 L308.80,216.80 L308.80,220.70Z" fill="#4ccb77" stroke="none"/>
<path d="M97.02,211.10 L97.80,211.20 L98.59,211.30 L99.37,211.40 L100.16,211.49 L100.94,211.59 L101.72,211.68 L102.51,211.77 L103.29,211.85 L104.08,211.94 L104.86,212.04 L105.65,212.13 L106.43,212.23 L107.21,212.33 L108.00,212.43 L108.78,212.53 L109.57,212.63 L110.35,212.73 L111.14,212.82 L111.92,212.92 L112.70,213.01 L113.49,213.10 L114.27,213.19 L115.06,213.27 L115.84,213.34 L116.63,213.41 L117.41,213.48 L118.20,213.53 L118.98,213.58 L119.76,213.62 L120.55,213.66 L121.33,213.68 L122.12,213.70 L122.90,213.70 L123.69,213.68 L124.47,213.63 L125.25,213.56 L126.04,213.47 L126.82,213.35 L127.61,213.21 L128.39,213.06 L129.18,212.89 L129.96,212.71 L130.75,212.52 L131.53,212.32 L132.31,212.11 L133.10,211.90 L133.88,211.69 L134.67,211.48 L135.45,211.27 L136.24,211.07 L137.02,210.88 L137.80,210.69 L138.59,210.51 L139.37,210.34 L140.16,210.17 L140.94,209.99 L141.73,209.82 L142.51,209.64 L143.30,209.46 L144.08,209.28 L144.86,209.09 L145.65,208.90 L146.43,208.70 L147.22,208.49 L148.00,208.28 L148.79,208.06 L149.57,207.83 L150.35,207.59 L151.14,207.33 L151.92,207.05 L152.71,206.76 L153.49,206.46 L154.28,206.14 L155.06,205.81 L155.85,205.48 L156.63,205.14 L157.41,204.80 L158.20,204.46 L158.98,204.12 L159.77,203.78 L160.55,203.45 L161.34,203.13 L162.12,202.81 L162.90,202.49 L163.69,202.17 L164.47,201.84 L165.26,201.52 L166.04,201.18 L166.83,200.83 L167.61,200.48 L168.40,200.10 L169.18,199.71 L169.96,199.30 L170.75,198.86 L171.53,198.38 L172.32,197.86 L173.10,197.30 L173.89,196.71 L174.67,196.10 L175.45,195.47 L176.24,194.83 L177.02,194.19 L177.81,193.54 L178.59,192.91 L179.38,192.29 L180.16,191.69 L180.95,191.12 L181.73,190.53 L182.51,189.93 L183.30,189.34 L184.08,188.78 L184.87,188.27 L185.65,187.82 L186.44,187.44 L187.22,187.06 L188.00,186.68 L188.79,186.32 L189.57,186.01 L190.36,185.76 L191.14,185.58 L191.93,185.50 L192.71,185.54 L193.50,185.71 L194.28,185.98 L195.06,186.32 L195.85,186.72 L196.63,187.14 L197.42,187.59 L198.20,188.19 L198.99,188.91 L199.77,189.68 L200.55,190.44 L201.34,191.23 L202.12,192.06 L202.91,192.91 L203.69,193.78 L204.48,194.67 L205.26,195.56 L206.05,196.44 L206.83,197.31 L207.61,198.18 L208.40,199.06 L209.18,199.95 L209.97,200.85 L210.75,201.74 L211.54,202.61 L212.32,203.47 L213.10,204.29 L213.89,205.09 L214.67,205.88 L215.46,206.67 L216.24,207.46 L217.03,208.22 L217.81,208.95 L218.60,209.64 L219.38,210.28 L220.16,210.84 L220.95,211.35 L221.73,211.82 L222.52,212.26 L223.30,212.68 L224.09,213.07 L224.87,213.44 L225.65,213.78 L226.44,214.11 L227.22,214.41 L228.01,214.70 L228.79,214.97 L229.58,215.24 L230.36,215.49 L231.15,215.73 L231.93,215.94 L232.71,216.14 L233.50,216.32 L234.28,216.47 L235.07,216.62 L235.85,216.75 L236.64,216.88 L237.42,216.99 L238.20,217.10 L238.99,217.19 L239.77,217.28 L240.56,217.35 L241.34,217.43 L242.13,217.51 L242.91,217.58 L243.70,217.65 L244.48,217.72 L245.26,217.79 L246.05,217.86 L246.83,217.92 L247.62,217.98 L248.40,218.03 L249.19,218.08 L249.97,218.13 L250.75,218.17 L251.54,218.21 L252.32,218.24 L253.11,218.27 L253.89,218.29 L254.68,218.30 L255.46,218.32 L256.25,218.33 L257.03,218.34 L257.81,218.35 L258.60,218.37 L259.38,218.38 L260.17,218.39 L260.95,218.40 L261.74,218.41 L262.52,218.42 L263.30,218.43 L264.09,218.44 L264.87,218.45 L265.66,218.46 L266.44,218.47 L267.23,218.48 L268.01,218.48 L268.79,218.49 L269.58,218.50 L270.36,218.51 L271.15,218.52 L271.93,218.52 L272.72,218.53 L273.50,218.54 L274.29,218.54 L275.07,218.55 L275.85,218.55 L276.64,218.56 L277.42,218.56 L278.21,218.57 L278.99,218.57 L279.78,218.58 L280.56,218.58 L281.34,218.58 L282.13,218.59 L282.91,218.59 L283.70,218.59 L284.48,218.59 L285.27,218.59 L286.05,218.60 L286.84,218.60 L287.62,218.60 L288.40,218.60 L289.19,218.60 L289.97,218.60 L290.76,218.60 L291.54,218.60 L292.33,218.59 L293.11,218.59 L293.89,218.58 L294.68,218.58 L295.46,218.57 L296.25,218.56 L297.03,218.55 L297.82,218.54 L298.60,218.53 L299.39,218.51 L300.17,218.50 L300.95,218.46 L301.74,218.38 L302.52,218.28 L303.31,218.15 L304.09,218.00 L304.88,217.83 L305.66,217.64 L306.44,217.44 L307.23,217.23 L308.01,217.02 L308.80,216.80" fill="none" stroke="#137030" stroke-width="1.1"/>
<path d="M77.47,243.55 L77.47,234.80 L78.29,234.91 L79.11,235.01 L79.94,235.12 L80.76,235.22 L81.58,235.32 L82.40,235.42 L83.22,235.52 L84.04,235.62 L84.86,235.71 L85.68,235.81 L86.50,235.90 L87.32,235.99 L88.14,236.08 L88.96,236.18 L89.79,236.28 L90.61,236.39 L91.43,236.49 L92.25,236.60 L93.07,236.71 L93.89,236.81 L94.71,236.91 L95.53,237.01 L96.35,237.10 L97.17,237.19 L97.99,237.27 L98.81,237.33 L99.63,237.39 L100.46,237.44 L101.28,237.47 L102.10,237.49 L102.92,237.50 L103.74,237.49 L104.56,237.47 L105.38,237.44 L106.20,237.40 L107.02,237.35 L107.84,237.29 L108.66,237.22 L109.48,237.15 L110.30,237.06 L111.13,236.97 L111.95,236.88 L112.77,236.78 L113.59,236.67 L114.41,236.56 L115.23,236.44 L116.05,236.32 L116.87,236.20 L117.69,236.08 L118.51,235.95 L119.33,235.80 L120.15,235.61 L120.98,235.40 L121.80,235.17 L122.62,234.91 L123.44,234.63 L124.26,234.33 L125.08,234.02 L125.90,233.70 L126.72,233.37 L127.54,233.03 L128.36,232.69 L129.18,232.34 L130.00,232.00 L130.82,231.66 L131.65,231.32 L132.47,231.00 L133.29,230.68 L134.11,230.37 L134.93,230.07 L135.75,229.76 L136.57,229.46 L137.39,229.15 L138.21,228.84 L139.03,228.53 L139.85,228.22 L140.67,227.90 L141.49,227.58 L142.32,227.26 L143.14,226.94 L143.96,226.61 L144.78,226.27 L145.60,225.93 L146.42,225.59 L147.24,225.23 L148.06,224.87 L148.88,224.51 L149.70,224.13 L150.52,223.73 L151.34,223.32 L152.16,222.90 L152.99,222.47 L153.81,222.04 L154.63,221.61 L155.45,221.19 L156.27,220.77 L157.09,220.35 L157.91,219.93 L158.73,219.50 L159.55,219.07 L160.37,218.64 L161.19,218.22 L162.01,217.81 L162.84,217.43 L163.66,217.06 L164.48,216.73 L165.30,216.39 L166.12,216.04 L166.94,215.69 L167.76,215.33 L168.58,214.98 L169.40,214.65 L170.22,214.34 L171.04,214.05 L171.86,213.80 L172.68,213.60 L173.51,213.44 L174.33,213.34 L175.15,213.30 L175.97,213.35 L176.79,213.49 L177.61,213.72 L178.43,214.02 L179.25,214.38 L180.07,214.79 L180.89,215.24 L181.71,215.70 L182.53,216.17 L183.35,216.64 L184.18,217.09 L185.00,217.54 L185.82,218.03 L186.64,218.55 L187.46,219.10 L188.28,219.69 L189.10,220.30 L189.92,220.93 L190.74,221.59 L191.56,222.29 L192.38,223.07 L193.20,223.91 L194.03,224.79 L194.85,225.69 L195.67,226.58 L196.49,227.44 L197.31,228.24 L198.13,228.98 L198.95,229.70 L199.77,230.41 L200.59,231.10 L201.41,231.77 L202.23,232.40 L203.05,233.00 L203.87,233.57 L204.70,234.08 L205.52,234.57 L206.34,235.05 L207.16,235.50 L207.98,235.92 L208.80,236.32 L209.62,236.70 L210.44,237.04 L211.26,237.36 L212.08,237.66 L212.90,237.94 L213.72,238.20 L214.54,238.45 L215.37,238.68 L216.19,238.90 L217.01,239.10 L217.83,239.28 L218.65,239.45 L219.47,239.61 L220.29,239.75 L221.11,239.88 L221.93,240.01 L222.75,240.13 L223.57,240.25 L224.39,240.37 L225.21,240.49 L226.04,240.62 L226.86,240.74 L227.68,240.86 L228.50,240.97 L229.32,241.05 L230.14,241.11 L230.96,241.15 L231.78,241.19 L232.60,241.23 L233.42,241.26 L234.24,241.29 L235.06,241.31 L235.89,241.33 L236.71,241.35 L237.53,241.37 L238.35,241.39 L239.17,241.40 L239.99,241.41 L240.81,241.43 L241.63,241.44 L242.45,241.45 L243.27,241.46 L244.09,241.47 L244.91,241.48 L245.73,241.49 L246.56,241.50 L247.38,241.51 L248.20,241.52 L249.02,241.53 L249.84,241.54 L250.66,241.54 L251.48,241.55 L252.30,241.56 L253.12,241.56 L253.94,241.57 L254.76,241.58 L255.58,241.58 L256.40,241.58 L257.23,241.59 L258.05,241.59 L258.87,241.59 L259.69,241.60 L260.51,241.60 L261.33,241.60 L262.15,241.60 L262.97,241.60 L263.79,241.60 L264.61,241.59 L265.43,241.58 L266.25,241.58 L267.08,241.57 L267.90,241.56 L268.72,241.55 L269.54,241.53 L270.36,241.52 L271.18,241.51 L272.00,241.49 L272.82,241.48 L273.64,241.46 L274.46,241.45 L275.28,241.44 L276.10,241.42 L276.92,241.41 L277.75,241.40 L278.57,241.39 L279.39,241.38 L280.21,241.37 L281.03,241.36 L281.85,241.35 L282.67,241.34 L283.49,241.33 L284.31,241.32 L285.13,241.31 L285.95,241.29 L286.77,241.28 L287.59,241.26 L288.42,241.24 L289.24,241.22 L290.06,241.20 L290.88,241.15 L291.70,241.07 L292.52,240.96 L293.34,240.82 L294.16,240.66 L294.98,240.48 L295.80,240.28 L296.62,240.07 L297.44,239.85 L298.26,239.63 L299.09,239.40 L299.09,243.55Z" fill="#3f9fd8" stroke="none"/>
<path d="M77.47,234.80 L78.29,234.91 L79.11,235.01 L79.94,235.12 L80.76,235.22 L81.58,235.32 L82.40,235.42 L83.22,235.52 L84.04,235.62 L84.86,235.71 L85.68,235.81 L86.50,235.90 L87.32,235.99 L88.14,236.08 L88.96,236.18 L89.79,236.28 L90.61,236.39 L91.43,236.49 L92.25,236.60 L93.07,236.71 L93.89,236.81 L94.71,236.91 L95.53,237.01 L96.35,237.10 L97.17,237.19 L97.99,237.27 L98.81,237.33 L99.63,237.39 L100.46,237.44 L101.28,237.47 L102.10,237.49 L102.92,237.50 L103.74,237.49 L104.56,237.47 L105.38,237.44 L106.20,237.40 L107.02,237.35 L107.84,237.29 L108.66,237.22 L109.48,237.15 L110.30,237.06 L111.13,236.97 L111.95,236.88 L112.77,236.78 L113.59,236.67 L114.41,236.56 L115.23,236.44 L116.05,236.32 L116.87,236.20 L117.69,236.08 L118.51,235.95 L119.33,235.80 L120.15,235.61 L120.98,235.40 L121.80,235.17 L122.62,234.91 L123.44,234.63 L124.26,234.33 L125.08,234.02 L125.90,233.70 L126.72,233.37 L127.54,233.03 L128.36,232.69 L129.18,232.34 L130.00,232.00 L130.82,231.66 L131.65,231.32 L132.47,231.00 L133.29,230.68 L134.11,230.37 L134.93,230.07 L135.75,229.76 L136.57,229.46 L137.39,229.15 L138.21,228.84 L139.03,228.53 L139.85,228.22 L140.67,227.90 L141.49,227.58 L142.32,227.26 L143.14,226.94 L143.96,226.61 L144.78,226.27 L145.60,225.93 L146.42,225.59 L147.24,225.23 L148.06,224.87 L148.88,224.51 L149.70,224.13 L150.52,223.73 L151.34,223.32 L152.16,222.90 L152.99,222.47 L153.81,222.04 L154.63,221.61 L155.45,221.19 L156.27,220.77 L157.09,220.35 L157.91,219.93 L158.73,219.50 L159.55,219.07 L160.37,218.64 L161.19,218.22 L162.01,217.81 L162.84,217.43 L163.66,217.06 L164.48,216.73 L165.30,216.39 L166.12,216.04 L166.94,215.69 L167.76,215.33 L168.58,214.98 L169.40,214.65 L170.22,214.34 L171.04,214.05 L171.86,213.80 L172.68,213.60 L173.51,213.44 L174.33,213.34 L175.15,213.30 L175.97,213.35 L176.79,213.49 L177.61,213.72 L178.43,214.02 L179.25,214.38 L180.07,214.79 L180.89,215.24 L181.71,215.70 L182.53,216.17 L183.35,216.64 L184.18,217.09 L185.00,217.54 L185.82,218.03 L186.64,218.55 L187.46,219.10 L188.28,219.69 L189.10,220.30 L189.92,220.93 L190.74,221.59 L191.56,222.29 L192.38,223.07 L193.20,223.91 L194.03,224.79 L194.85,225.69 L195.67,226.58 L196.49,227.44 L197.31,228.24 L198.13,228.98 L198.95,229.70 L199.77,230.41 L200.59,231.10 L201.41,231.77 L202.23,232.40 L203.05,233.00 L203.87,233.57 L204.70,234.08 L205.52,234.57 L206.34,235.05 L207.16,235.50 L207.98,235.92 L208.80,236.32 L209.62,236.70 L210.44,237.04 L211.26,237.36 L212.08,237.66 L212.90,237.94 L213.72,238.20 L214.54,238.45 L215.37,238.68 L216.19,238.90 L217.01,239.10 L217.83,239.28 L218.65,239.45 L219.47,239.61 L220.29,239.75 L221.11,239.88 L221.93,240.01 L222.75,240.13 L223.57,240.25 L224.39,240.37 L225.21,240.49 L226.04,240.62 L226.86,240.74 L227.68,240.86 L228.50,240.97 L229.32,241.05 L230.14,241.11 L230.96,241.15 L231.78,241.19 L232.60,241.23 L233.42,241.26 L234.24,241.29 L235.06,241.31 L235.89,241.33 L236.71,241.35 L237.53,241.37 L238.35,241.39 L239.17,241.40 L239.99,241.41 L240.81,241.43 L241.63,241.44 L242.45,241.45 L243.27,241.46 L244.09,241.47 L244.91,241.48 L245.73,241.49 L246.56,241.50 L247.38,241.51 L248.20,241.52 L249.02,241.53 L249.84,241.54 L250.66,241.54 L251.48,241.55 L252.30,241.56 L253.12,241.56 L253.94,241.57 L254.76,241.58 L255.58,241.58 L256.40,241.58 L257.23,241.59 L258.05,241.59 L258.87,241.59 L259.69,241.60 L260.51,241.60 L261.33,241.60 L262.15,241.60 L262.97,241.60 L263.79,241.60 L264.61,241.59 L265.43,241.58 L266.25,241.58 L267.08,241.57 L267.90,241.56 L268.72,241.55 L269.54,241.53 L270.36,241.52 L271.18,241.51 L272.00,241.49 L272.82,241.48 L273.64,241.46 L274.46,241.45 L275.28,241.44 L276.10,241.42 L276.92,241.41 L277.75,241.40 L278.57,241.39 L279.39,241.38 L280.21,241.37 L281.03,241.36 L281.85,241.35 L282.67,241.34 L283.49,241.33 L284.31,241.32 L285.13,241.31 L285.95,241.29 L286.77,241.28 L287.59,241.26 L288.42,241.24 L289.24,241.22 L290.06,241.20 L290.88,241.15 L291.70,241.07 L292.52,240.96 L293.34,240.82 L294.16,240.66 L294.98,240.48 L295.80,240.28 L296.62,240.07 L297.44,239.85 L298.26,239.63 L299.09,239.40" fill="none" stroke="#123f6a" stroke-width="1.1"/>
<path d="M56.03,268.62 L56.03,263.50 L56.89,263.58 L57.75,263.66 L58.61,263.73 L59.47,263.81 L60.33,263.88 L61.19,263.95 L62.05,264.02 L62.91,264.09 L63.77,264.15 L64.63,264.21 L65.49,264.27 L66.36,264.32 L67.22,264.38 L68.08,264.44 L68.94,264.49 L69.80,264.55 L70.66,264.61 L71.52,264.67 L72.38,264.72 L73.24,264.78 L74.10,264.83 L74.96,264.88 L75.82,264.93 L76.68,264.97 L77.54,265.00 L78.41,265.04 L79.27,265.06 L80.13,265.08 L80.99,265.09 L81.85,265.10 L82.71,265.09 L83.57,265.07 L84.43,265.03 L85.29,264.97 L86.15,264.90 L87.01,264.82 L87.87,264.72 L88.73,264.62 L89.60,264.50 L90.46,264.38 L91.32,264.26 L92.18,264.12 L93.04,263.99 L93.90,263.85 L94.76,263.71 L95.62,263.57 L96.48,263.43 L97.34,263.30 L98.20,263.17 L99.06,263.03 L99.92,262.89 L100.79,262.74 L101.65,262.58 L102.51,262.42 L103.37,262.25 L104.23,262.07 L105.09,261.89 L105.95,261.71 L106.81,261.53 L107.67,261.34 L108.53,261.16 L109.39,260.97 L110.25,260.78 L111.11,260.60 L111.97,260.42 L112.84,260.24 L113.70,260.06 L114.56,259.89 L115.42,259.72 L116.28,259.55 L117.14,259.38 L118.00,259.21 L118.86,259.04 L119.72,258.87 L120.58,258.71 L121.44,258.54 L122.30,258.37 L123.16,258.20 L124.03,258.03 L124.89,257.86 L125.75,257.68 L126.61,257.51 L127.47,257.33 L128.33,257.15 L129.19,256.97 L130.05,256.79 L130.91,256.60 L131.77,256.40 L132.63,256.20 L133.49,256.00 L134.35,255.79 L135.21,255.57 L136.08,255.36 L136.94,255.14 L137.80,254.93 L138.66,254.72 L139.52,254.51 L140.38,254.30 L141.24,254.10 L142.10,253.90 L142.96,253.71 L143.82,253.52 L144.68,253.35 L145.54,253.18 L146.40,253.03 L147.27,252.86 L148.13,252.69 L148.99,252.52 L149.85,252.35 L150.71,252.18 L151.57,252.02 L152.43,251.86 L153.29,251.71 L154.15,251.58 L155.01,251.46 L155.87,251.36 L156.73,251.28 L157.59,251.23 L158.46,251.20 L159.32,251.21 L160.18,251.24 L161.04,251.30 L161.90,251.39 L162.76,251.50 L163.62,251.63 L164.48,251.79 L165.34,251.96 L166.20,252.15 L167.06,252.36 L167.92,252.57 L168.78,252.80 L169.64,253.04 L170.51,253.28 L171.37,253.53 L172.23,253.81 L173.09,254.18 L173.95,254.62 L174.81,255.11 L175.67,255.64 L176.53,256.17 L177.39,256.70 L178.25,257.20 L179.11,257.66 L179.97,258.11 L180.83,258.57 L181.70,259.02 L182.56,259.48 L183.42,259.92 L184.28,260.36 L185.14,260.79 L186.00,261.20 L186.86,261.60 L187.72,261.98 L188.58,262.33 L189.44,262.68 L190.30,263.01 L191.16,263.35 L192.02,263.67 L192.88,263.98 L193.75,264.28 L194.61,264.57 L195.47,264.84 L196.33,265.08 L197.19,265.31 L198.05,265.51 L198.91,265.70 L199.77,265.89 L200.63,266.08 L201.49,266.26 L202.35,266.43 L203.21,266.59 L204.07,266.73 L204.94,266.86 L205.80,266.96 L206.66,267.04 L207.52,267.09 L208.38,267.12 L209.24,267.15 L210.10,267.18 L210.96,267.21 L211.82,267.24 L212.68,267.26 L213.54,267.28 L214.40,267.31 L215.26,267.33 L216.13,267.35 L216.99,267.36 L217.85,267.38 L218.71,267.40 L219.57,267.41 L220.43,267.43 L221.29,267.44 L222.15,267.45 L223.01,267.46 L223.87,267.47 L224.73,267.48 L225.59,267.48 L226.45,267.49 L227.31,267.49 L228.18,267.50 L229.04,267.50 L229.90,267.50 L230.76,267.50 L231.62,267.50 L232.48,267.50 L233.34,267.50 L234.20,267.50 L235.06,267.50 L235.92,267.50 L236.78,267.50 L237.64,267.50 L238.50,267.50 L239.37,267.50 L240.23,267.50 L241.09,267.50 L241.95,267.50 L242.81,267.50 L243.67,267.50 L244.53,267.50 L245.39,267.50 L246.25,267.50 L247.11,267.50 L247.97,267.50 L248.83,267.50 L249.69,267.50 L250.55,267.50 L251.42,267.50 L252.28,267.50 L253.14,267.50 L254.00,267.50 L254.86,267.50 L255.72,267.50 L256.58,267.50 L257.44,267.50 L258.30,267.50 L259.16,267.50 L260.02,267.50 L260.88,267.50 L261.74,267.50 L262.61,267.50 L263.47,267.50 L264.33,267.50 L265.19,267.50 L266.05,267.50 L266.91,267.50 L267.77,267.50 L268.63,267.50 L269.49,267.50 L270.35,267.50 L271.21,267.50 L272.07,267.50 L272.93,267.50 L273.80,267.50 L274.66,267.50 L275.52,267.50 L276.38,267.50 L277.24,267.50 L278.10,267.50 L278.96,267.50 L279.82,267.48 L280.68,267.42 L281.54,267.34 L282.40,267.22 L283.26,267.08 L284.12,266.93 L284.98,266.76 L285.85,266.59 L286.71,266.42 L287.57,266.26 L288.43,266.10 L288.43,268.62Z" fill="#ff5656" stroke="none"/>
<path d="M56.03,263.50 L56.89,263.58 L57.75,263.66 L58.61,263.73 L59.47,263.81 L60.33,263.88 L61.19,263.95 L62.05,264.02 L62.91,264.09 L63.77,264.15 L64.63,264.21 L65.49,264.27 L66.36,264.32 L67.22,264.38 L68.08,264.44 L68.94,264.49 L69.80,264.55 L70.66,264.61 L71.52,264.67 L72.38,264.72 L73.24,264.78 L74.10,264.83 L74.96,264.88 L75.82,264.93 L76.68,264.97 L77.54,265.00 L78.41,265.04 L79.27,265.06 L80.13,265.08 L80.99,265.09 L81.85,265.10 L82.71,265.09 L83.57,265.07 L84.43,265.03 L85.29,264.97 L86.15,264.90 L87.01,264.82 L87.87,264.72 L88.73,264.62 L89.60,264.50 L90.46,264.38 L91.32,264.26 L92.18,264.12 L93.04,263.99 L93.90,263.85 L94.76,263.71 L95.62,263.57 L96.48,263.43 L97.34,263.30 L98.20,263.17 L99.06,263.03 L99.92,262.89 L100.79,262.74 L101.65,262.58 L102.51,262.42 L103.37,262.25 L104.23,262.07 L105.09,261.89 L105.95,261.71 L106.81,261.53 L107.67,261.34 L108.53,261.16 L109.39,260.97 L110.25,260.78 L111.11,260.60 L111.97,260.42 L112.84,260.24 L113.70,260.06 L114.56,259.89 L115.42,259.72 L116.28,259.55 L117.14,259.38 L118.00,259.21 L118.86,259.04 L119.72,258.87 L120.58,258.71 L121.44,258.54 L122.30,258.37 L123.16,258.20 L124.03,258.03 L124.89,257.86 L125.75,257.68 L126.61,257.51 L127.47,257.33 L128.33,257.15 L129.19,256.97 L130.05,256.79 L130.91,256.60 L131.77,256.40 L132.63,256.20 L133.49,256.00 L134.35,255.79 L135.21,255.57 L136.08,255.36 L136.94,255.14 L137.80,254.93 L138.66,254.72 L139.52,254.51 L140.38,254.30 L141.24,254.10 L142.10,253.90 L142.96,253.71 L143.82,253.52 L144.68,253.35 L145.54,253.18 L146.40,253.03 L147.27,252.86 L148.13,252.69 L148.99,252.52 L149.85,252.35 L150.71,252.18 L151.57,252.02 L152.43,251.86 L153.29,251.71 L154.15,251.58 L155.01,251.46 L155.87,251.36 L156.73,251.28 L157.59,251.23 L158.46,251.20 L159.32,251.21 L160.18,251.24 L161.04,251.30 L161.90,251.39 L162.76,251.50 L163.62,251.63 L164.48,251.79 L165.34,251.96 L166.20,252.15 L167.06,252.36 L167.92,252.57 L168.78,252.80 L169.64,253.04 L170.51,253.28 L171.37,253.53 L172.23,253.81 L173.09,254.18 L173.95,254.62 L174.81,255.11 L175.67,255.64 L176.53,256.17 L177.39,256.70 L178.25,257.20 L179.11,257.66 L179.97,258.11 L180.83,258.57 L181.70,259.02 L182.56,259.48 L183.42,259.92 L184.28,260.36 L185.14,260.79 L186.00,261.20 L186.86,261.60 L187.72,261.98 L188.58,262.33 L189.44,262.68 L190.30,263.01 L191.16,263.35 L192.02,263.67 L192.88,263.98 L193.75,264.28 L194.61,264.57 L195.47,264.84 L196.33,265.08 L197.19,265.31 L198.05,265.51 L198.91,265.70 L199.77,265.89 L200.63,266.08 L201.49,266.26 L202.35,266.43 L203.21,266.59 L204.07,266.73 L204.94,266.86 L205.80,266.96 L206.66,267.04 L207.52,267.09 L208.38,267.12 L209.24,267.15 L210.10,267.18 L210.96,267.21 L211.82,267.24 L212.68,267.26 L213.54,267.28 L214.40,267.31 L215.26,267.33 L216.13,267.35 L216.99,267.36 L217.85,267.38 L218.71,267.40 L219.57,267.41 L220.43,267.43 L221.29,267.44 L222.15,267.45 L223.01,267.46 L223.87,267.47 L224.73,267.48 L225.59,267.48 L226.45,267.49 L227.31,267.49 L228.18,267.50 L229.04,267.50 L229.90,267.50 L230.76,267.50 L231.62,267.50 L232.48,267.50 L233.34,267.50 L234.20,267.50 L235.06,267.50 L235.92,267.50 L236.78,267.50 L237.64,267.50 L238.50,267.50 L239.37,267.50 L240.23,267.50 L241.09,267.50 L241.95,267.50 L242.81,267.50 L243.67,267.50 L244.53,267.50 L245.39,267.50 L246.25,267.50 L247.11,267.50 L247.97,267.50 L248.83,267.50 L249.69,267.50 L250.55,267.50 L251.42,267.50 L252.28,267.50 L253.14,267.50 L254.00,267.50 L254.86,267.50 L255.72,267.50 L256.58,267.50 L257.44,267.50 L258.30,267.50 L259.16,267.50 L260.02,267.50 L260.88,267.50 L261.74,267.50 L262.61,267.50 L263.47,267.50 L264.33,267.50 L265.19,267.50 L266.05,267.50 L266.91,267.50 L267.77,267.50 L268.63,267.50 L269.49,267.50 L270.35,267.50 L271.21,267.50 L272.07,267.50 L272.93,267.50 L273.80,267.50 L274.66,267.50 L275.52,267.50 L276.38,267.50 L277.24,267.50 L278.10,267.50 L278.96,267.50 L279.82,267.48 L280.68,267.42 L281.54,267.34 L282.40,267.22 L283.26,267.08 L284.12,266.93 L284.98,266.76 L285.85,266.59 L286.71,266.42 L287.57,266.26 L288.43,266.10" fill="none" stroke="#c00000" stroke-width="1.1"/>
<line x1="282.70" y1="282.10" x2="355.62" y2="110.53" stroke="#222" stroke-width="1.1" />
<line x1="282.70" y1="282.10" x2="284.90" y2="282.10" stroke="#222" stroke-width="1" />
<line x1="293.88" y1="255.79" x2="296.08" y2="255.79" stroke="#222" stroke-width="1" />
<line x1="304.05" y1="231.86" x2="306.25" y2="231.86" stroke="#222" stroke-width="1" />
<line x1="313.34" y1="210.02" x2="315.54" y2="210.02" stroke="#222" stroke-width="1" />
<line x1="321.85" y1="189.99" x2="324.05" y2="189.99" stroke="#222" stroke-width="1" />
<line x1="329.68" y1="171.56" x2="331.88" y2="171.56" stroke="#222" stroke-width="1" />
<line x1="336.92" y1="154.54" x2="339.12" y2="154.54" stroke="#222" stroke-width="1" />
<line x1="343.61" y1="138.79" x2="345.81" y2="138.79" stroke="#222" stroke-width="1" />
<line x1="349.83" y1="124.15" x2="352.03" y2="124.15" stroke="#222" stroke-width="1" />
<line x1="355.62" y1="110.53" x2="357.82" y2="110.53" stroke="#222" stroke-width="1" />
<line x1="288.43" y1="268.62" x2="292.43" y2="268.62" stroke="#222" stroke-width="1" />
<text x="296.62" y="272.82" font-size="10.05" style="fill:#ff1010">0</text>
<line x1="299.09" y1="243.55" x2="303.09" y2="243.55" stroke="#222" stroke-width="1" />
<text x="306.90" y="247.75" font-size="9.58" style="fill:#1f80c8">0.001</text>
<line x1="308.80" y1="220.70" x2="312.80" y2="220.70" stroke="#222" stroke-width="1" />
<text x="316.27" y="224.90" font-size="9.16" style="fill:#15a845">0.01</text>
<line x1="317.69" y1="199.79" x2="321.69" y2="199.79" stroke="#222" stroke-width="1" />
<text x="324.84" y="203.99" font-size="8.77" style="fill:#b03cc0">0.1</text>
<line x1="325.85" y1="180.58" x2="329.85" y2="180.58" stroke="#222" stroke-width="1" />
<text x="332.71" y="184.78" font-size="8.41" style="fill:#ff8a10">1</text>
<line x1="333.37" y1="162.88" x2="337.37" y2="162.88" stroke="#222" stroke-width="1" />
<text x="340.56" y="167.08" font-size="8.08" style="fill:#f2f200">10</text>
<line x1="340.33" y1="146.52" x2="344.33" y2="146.52" stroke="#222" stroke-width="1" />
<text x="347.27" y="150.72" font-size="7.78" style="fill:#c0501a">100</text>
<line x1="346.78" y1="131.34" x2="350.78" y2="131.34" stroke="#222" stroke-width="1" />
<text x="352.89" y="135.54" font-size="7.49" style="fill:#ff78c4">1000</text>
<line x1="352.78" y1="117.22" x2="356.78" y2="117.22" stroke="#222" stroke-width="1" />
<text x="361.38" y="121.42" font-size="8.00" style="fill:#9a9a9a">10,000</text>
<line x1="44.50" y1="282.10" x2="283.20" y2="282.10" stroke="#111" stroke-width="1.3" />
<line x1="44.50" y1="282.70" x2="44.50" y2="163.20" stroke="#111" stroke-width="1.3" />
<line x1="44.50" y1="282.10" x2="44.50" y2="286.60" stroke="#111" stroke-width="1.1" />
<line x1="70.97" y1="282.10" x2="70.97" y2="284.60" stroke="#111" stroke-width="1.1" />
<line x1="97.43" y1="282.10" x2="97.43" y2="286.60" stroke="#111" stroke-width="1.1" />
<line x1="123.90" y1="282.10" x2="123.90" y2="284.60" stroke="#111" stroke-width="1.1" />
<line x1="150.37" y1="282.10" x2="150.37" y2="286.60" stroke="#111" stroke-width="1.1" />
<line x1="176.83" y1="282.10" x2="176.83" y2="284.60" stroke="#111" stroke-width="1.1" />
<line x1="203.30" y1="282.10" x2="203.30" y2="286.60" stroke="#111" stroke-width="1.1" />
<line x1="229.77" y1="282.10" x2="229.77" y2="284.60" stroke="#111" stroke-width="1.1" />
<line x1="256.23" y1="282.10" x2="256.23" y2="286.60" stroke="#111" stroke-width="1.1" />
<line x1="282.70" y1="282.10" x2="282.70" y2="284.60" stroke="#111" stroke-width="1.1" />
<line x1="40.00" y1="282.10" x2="44.50" y2="282.10" stroke="#111" stroke-width="1.1" />
<line x1="42.00" y1="270.21" x2="44.50" y2="270.21" stroke="#111" stroke-width="1.1" />
<line x1="40.00" y1="258.32" x2="44.50" y2="258.32" stroke="#111" stroke-width="1.1" />
<line x1="42.00" y1="246.43" x2="44.50" y2="246.43" stroke="#111" stroke-width="1.1" />
<line x1="40.00" y1="234.54" x2="44.50" y2="234.54" stroke="#111" stroke-width="1.1" />
<line x1="42.00" y1="222.65" x2="44.50" y2="222.65" stroke="#111" stroke-width="1.1" />
<line x1="40.00" y1="210.76" x2="44.50" y2="210.76" stroke="#111" stroke-width="1.1" />
<line x1="42.00" y1="198.87" x2="44.50" y2="198.87" stroke="#111" stroke-width="1.1" />
<line x1="40.00" y1="186.98" x2="44.50" y2="186.98" stroke="#111" stroke-width="1.1" />
<line x1="42.00" y1="175.09" x2="44.50" y2="175.09" stroke="#111" stroke-width="1.1" />
<line x1="40.00" y1="163.20" x2="44.50" y2="163.20" stroke="#111" stroke-width="1.1" />
<text x="44.50" y="300" font-size="10.5" text-anchor="middle">−0.6</text>
<text x="97.43" y="300" font-size="10.5" text-anchor="middle">−0.4</text>
<text x="150.37" y="300" font-size="10.5" text-anchor="middle">−0.2</text>
<text x="203.30" y="300" font-size="10.5" text-anchor="middle">0.0</text>
<text x="256.23" y="300" font-size="10.5" text-anchor="middle">0.2</text>
<text x="36.5" y="285.60" font-size="10" text-anchor="end">0</text>
<text x="36.5" y="261.82" font-size="10" text-anchor="end">1</text>
<text x="36.5" y="238.04" font-size="10" text-anchor="end">2</text>
<text x="36.5" y="214.26" font-size="10" text-anchor="end">3</text>
<text x="36.5" y="190.48" font-size="10" text-anchor="end">4</text>
<text x="36.5" y="166.70" font-size="10" text-anchor="end">5</text>
<rect x="452.5" y="30.5" width="320.5" height="258.4" fill="none" stroke="#000" stroke-width="1.8"/>
<line x1="470.31" y1="288.90" x2="470.31" y2="286.70" stroke="#000" stroke-width="1.5" />
<line x1="488.11" y1="288.90" x2="488.11" y2="284.70" stroke="#000" stroke-width="1.5" />
<line x1="505.92" y1="288.90" x2="505.92" y2="286.70" stroke="#000" stroke-width="1.5" />
<line x1="523.72" y1="288.90" x2="523.72" y2="284.70" stroke="#000" stroke-width="1.5" />
<line x1="541.53" y1="288.90" x2="541.53" y2="286.70" stroke="#000" stroke-width="1.5" />
<line x1="559.33" y1="288.90" x2="559.33" y2="284.70" stroke="#000" stroke-width="1.5" />
<line x1="577.14" y1="288.90" x2="577.14" y2="286.70" stroke="#000" stroke-width="1.5" />
<line x1="594.94" y1="288.90" x2="594.94" y2="284.70" stroke="#000" stroke-width="1.5" />
<line x1="612.75" y1="288.90" x2="612.75" y2="286.70" stroke="#000" stroke-width="1.5" />
<line x1="630.56" y1="288.90" x2="630.56" y2="284.70" stroke="#000" stroke-width="1.5" />
<line x1="648.36" y1="288.90" x2="648.36" y2="286.70" stroke="#000" stroke-width="1.5" />
<line x1="666.17" y1="288.90" x2="666.17" y2="284.70" stroke="#000" stroke-width="1.5" />
<line x1="683.97" y1="288.90" x2="683.97" y2="286.70" stroke="#000" stroke-width="1.5" />
<line x1="701.78" y1="288.90" x2="701.78" y2="284.70" stroke="#000" stroke-width="1.5" />
<line x1="719.58" y1="288.90" x2="719.58" y2="286.70" stroke="#000" stroke-width="1.5" />
<line x1="737.39" y1="288.90" x2="737.39" y2="284.70" stroke="#000" stroke-width="1.5" />
<line x1="755.19" y1="288.90" x2="755.19" y2="286.70" stroke="#000" stroke-width="1.5" />
<line x1="452.50" y1="270.60" x2="456.70" y2="270.60" stroke="#000" stroke-width="1.5" />
<line x1="452.50" y1="252.10" x2="454.70" y2="252.10" stroke="#000" stroke-width="1.5" />
<line x1="452.50" y1="233.60" x2="456.70" y2="233.60" stroke="#000" stroke-width="1.5" />
<line x1="452.50" y1="215.10" x2="454.70" y2="215.10" stroke="#000" stroke-width="1.5" />
<line x1="452.50" y1="196.60" x2="456.70" y2="196.60" stroke="#000" stroke-width="1.5" />
<line x1="452.50" y1="178.10" x2="454.70" y2="178.10" stroke="#000" stroke-width="1.5" />
<line x1="452.50" y1="159.60" x2="456.70" y2="159.60" stroke="#000" stroke-width="1.5" />
<line x1="452.50" y1="141.10" x2="454.70" y2="141.10" stroke="#000" stroke-width="1.5" />
<line x1="452.50" y1="122.60" x2="456.70" y2="122.60" stroke="#000" stroke-width="1.5" />
<line x1="452.50" y1="104.10" x2="454.70" y2="104.10" stroke="#000" stroke-width="1.5" />
<line x1="452.50" y1="85.60" x2="456.70" y2="85.60" stroke="#000" stroke-width="1.5" />
<line x1="452.50" y1="67.10" x2="454.70" y2="67.10" stroke="#000" stroke-width="1.5" />
<line x1="452.50" y1="48.60" x2="456.70" y2="48.60" stroke="#000" stroke-width="1.5" />
<text transform="translate(452.50,306.3) scale(1,1.1)" font-size="13" text-anchor="middle">−4</text>
<text transform="translate(488.11,306.3) scale(1,1.1)" font-size="13" text-anchor="middle">−3</text>
<text transform="translate(523.72,306.3) scale(1,1.1)" font-size="13" text-anchor="middle">−2</text>
<text transform="translate(559.33,306.3) scale(1,1.1)" font-size="13" text-anchor="middle">−1</text>
<text transform="translate(594.94,306.3) scale(1,1.1)" font-size="13" text-anchor="middle">0</text>
<text transform="translate(630.56,306.3) scale(1,1.1)" font-size="13" text-anchor="middle">1</text>
<text transform="translate(666.17,306.3) scale(1,1.1)" font-size="13" text-anchor="middle">2</text>
<text transform="translate(701.78,306.3) scale(1,1.1)" font-size="13" text-anchor="middle">3</text>
<text transform="translate(737.39,306.3) scale(1,1.1)" font-size="13" text-anchor="middle">4</text>
<text transform="translate(773.00,306.3) scale(1,1.1)" font-size="13" text-anchor="middle">5</text>
<text transform="translate(446.5,275.50) scale(1,1.1)" font-size="13" text-anchor="end">0.5</text>
<text transform="translate(446.5,238.50) scale(1,1.1)" font-size="13" text-anchor="end">1.0</text>
<text transform="translate(446.5,201.50) scale(1,1.1)" font-size="13" text-anchor="end">1.5</text>
<text transform="translate(446.5,164.50) scale(1,1.1)" font-size="13" text-anchor="end">2.0</text>
<text transform="translate(446.5,127.50) scale(1,1.1)" font-size="13" text-anchor="end">2.5</text>
<text transform="translate(446.5,90.50) scale(1,1.1)" font-size="13" text-anchor="end">3.0</text>
<text transform="translate(446.5,53.50) scale(1,1.1)" font-size="13" text-anchor="end">3.5</text>
<line x1="488.11" y1="254.10" x2="488.11" y2="265.94" stroke="#333" stroke-width="1" />
<line x1="484.61" y1="254.10" x2="491.61" y2="254.10" stroke="#333" stroke-width="1" />
<line x1="484.61" y1="265.94" x2="491.61" y2="265.94" stroke="#333" stroke-width="1" />
<line x1="523.72" y1="232.27" x2="523.72" y2="246.33" stroke="#333" stroke-width="1" />
<line x1="520.22" y1="232.27" x2="527.22" y2="232.27" stroke="#333" stroke-width="1" />
<line x1="520.22" y1="246.33" x2="527.22" y2="246.33" stroke="#333" stroke-width="1" />
<line x1="559.33" y1="207.26" x2="559.33" y2="223.09" stroke="#333" stroke-width="1" />
<line x1="555.83" y1="207.26" x2="562.83" y2="207.26" stroke="#333" stroke-width="1" />
<line x1="555.83" y1="223.09" x2="562.83" y2="223.09" stroke="#333" stroke-width="1" />
<line x1="594.94" y1="180.10" x2="594.94" y2="202.30" stroke="#333" stroke-width="1" />
<line x1="591.44" y1="180.10" x2="598.44" y2="180.10" stroke="#333" stroke-width="1" />
<line x1="591.44" y1="202.30" x2="598.44" y2="202.30" stroke="#333" stroke-width="1" />
<line x1="630.56" y1="147.17" x2="630.56" y2="176.18" stroke="#333" stroke-width="1" />
<line x1="627.06" y1="147.17" x2="634.06" y2="147.17" stroke="#333" stroke-width="1" />
<line x1="627.06" y1="176.18" x2="634.06" y2="176.18" stroke="#333" stroke-width="1" />
<line x1="666.17" y1="118.90" x2="666.17" y2="133.70" stroke="#333" stroke-width="1" />
<line x1="662.67" y1="118.90" x2="669.67" y2="118.90" stroke="#333" stroke-width="1" />
<line x1="662.67" y1="133.70" x2="669.67" y2="133.70" stroke="#333" stroke-width="1" />
<line x1="701.78" y1="84.86" x2="701.78" y2="104.10" stroke="#333" stroke-width="1" />
<line x1="698.28" y1="84.86" x2="705.28" y2="84.86" stroke="#333" stroke-width="1" />
<line x1="698.28" y1="104.10" x2="705.28" y2="104.10" stroke="#333" stroke-width="1" />
<line x1="737.39" y1="51.78" x2="737.39" y2="78.57" stroke="#333" stroke-width="1" />
<line x1="733.89" y1="51.78" x2="740.89" y2="51.78" stroke="#333" stroke-width="1" />
<line x1="733.89" y1="78.57" x2="740.89" y2="78.57" stroke="#333" stroke-width="1" />
<rect x="485.51" y="257.42" width="5.2" height="5.2" fill="#000"/>
<rect x="521.12" y="236.70" width="5.2" height="5.2" fill="#000"/>
<rect x="556.73" y="212.57" width="5.2" height="5.2" fill="#000"/>
<rect x="592.34" y="188.60" width="5.2" height="5.2" fill="#000"/>
<rect x="627.96" y="159.07" width="5.2" height="5.2" fill="#000"/>
<rect x="663.57" y="123.70" width="5.2" height="5.2" fill="#000"/>
<rect x="699.18" y="91.88" width="5.2" height="5.2" fill="#000"/>
<rect x="734.79" y="62.58" width="5.2" height="5.2" fill="#000"/>
<line x1="488.11" y1="265.09" x2="737.39" y2="71.20" stroke="#ff0000" stroke-width="2" />
<text transform="translate(471,62) scale(1.07,1)" x="0" y="0" font-size="10.3">ΔI=0.3743lgC<tspan font-size="7" dy="2.3">Hg</tspan><tspan font-size="6.9" dy="-2.5">2+</tspan><tspan dy="0.2"></tspan><tspan>+1.6974</tspan></text>
<text transform="translate(471,80.6) scale(1.04,1)" x="0" y="0" font-size="10.3">R<tspan font-size="7.3" dy="-5" dx="0.3">2</tspan><tspan dy="5">=0.9932</tspan></text>
<text x="574.5" y="325.5" font-size="13">lgC<tspan font-size="8" dy="3">Hg</tspan><tspan font-size="7.5" dy="-5.3">2+</tspan><tspan dy="2.3"> (pM)</tspan></text>
<text transform="translate(425.2,158.8) rotate(-90) scale(0.93,1.08)" font-size="13" text-anchor="middle">ΔI / uA</text>
<text x="4.3" y="20" font-size="23">A</text>
<text x="419.3" y="20" font-size="23">B</text>
<text x="162" y="313.5" font-size="10.5" text-anchor="middle">Potential / V</text>
<text transform="translate(25.3,233) rotate(-90)" font-size="10.5" text-anchor="middle">Current / uA</text>
<text transform="translate(356.6,207.2) rotate(-68.5)" font-size="10.5" text-anchor="middle">Concentration / pM</text>
<text x="101" y="166" font-size="11" text-anchor="middle">a</text>
<text x="154" y="107.5" font-size="11" text-anchor="middle">i</text>
<line x1="104.90" y1="157.80" x2="146.50" y2="110.50" stroke="#111" stroke-width="1.1" />
<path d="M150,106.5 L142.8,110.4 L146.9,114 Z" fill="#111"/>
</svg>
</body></html>
